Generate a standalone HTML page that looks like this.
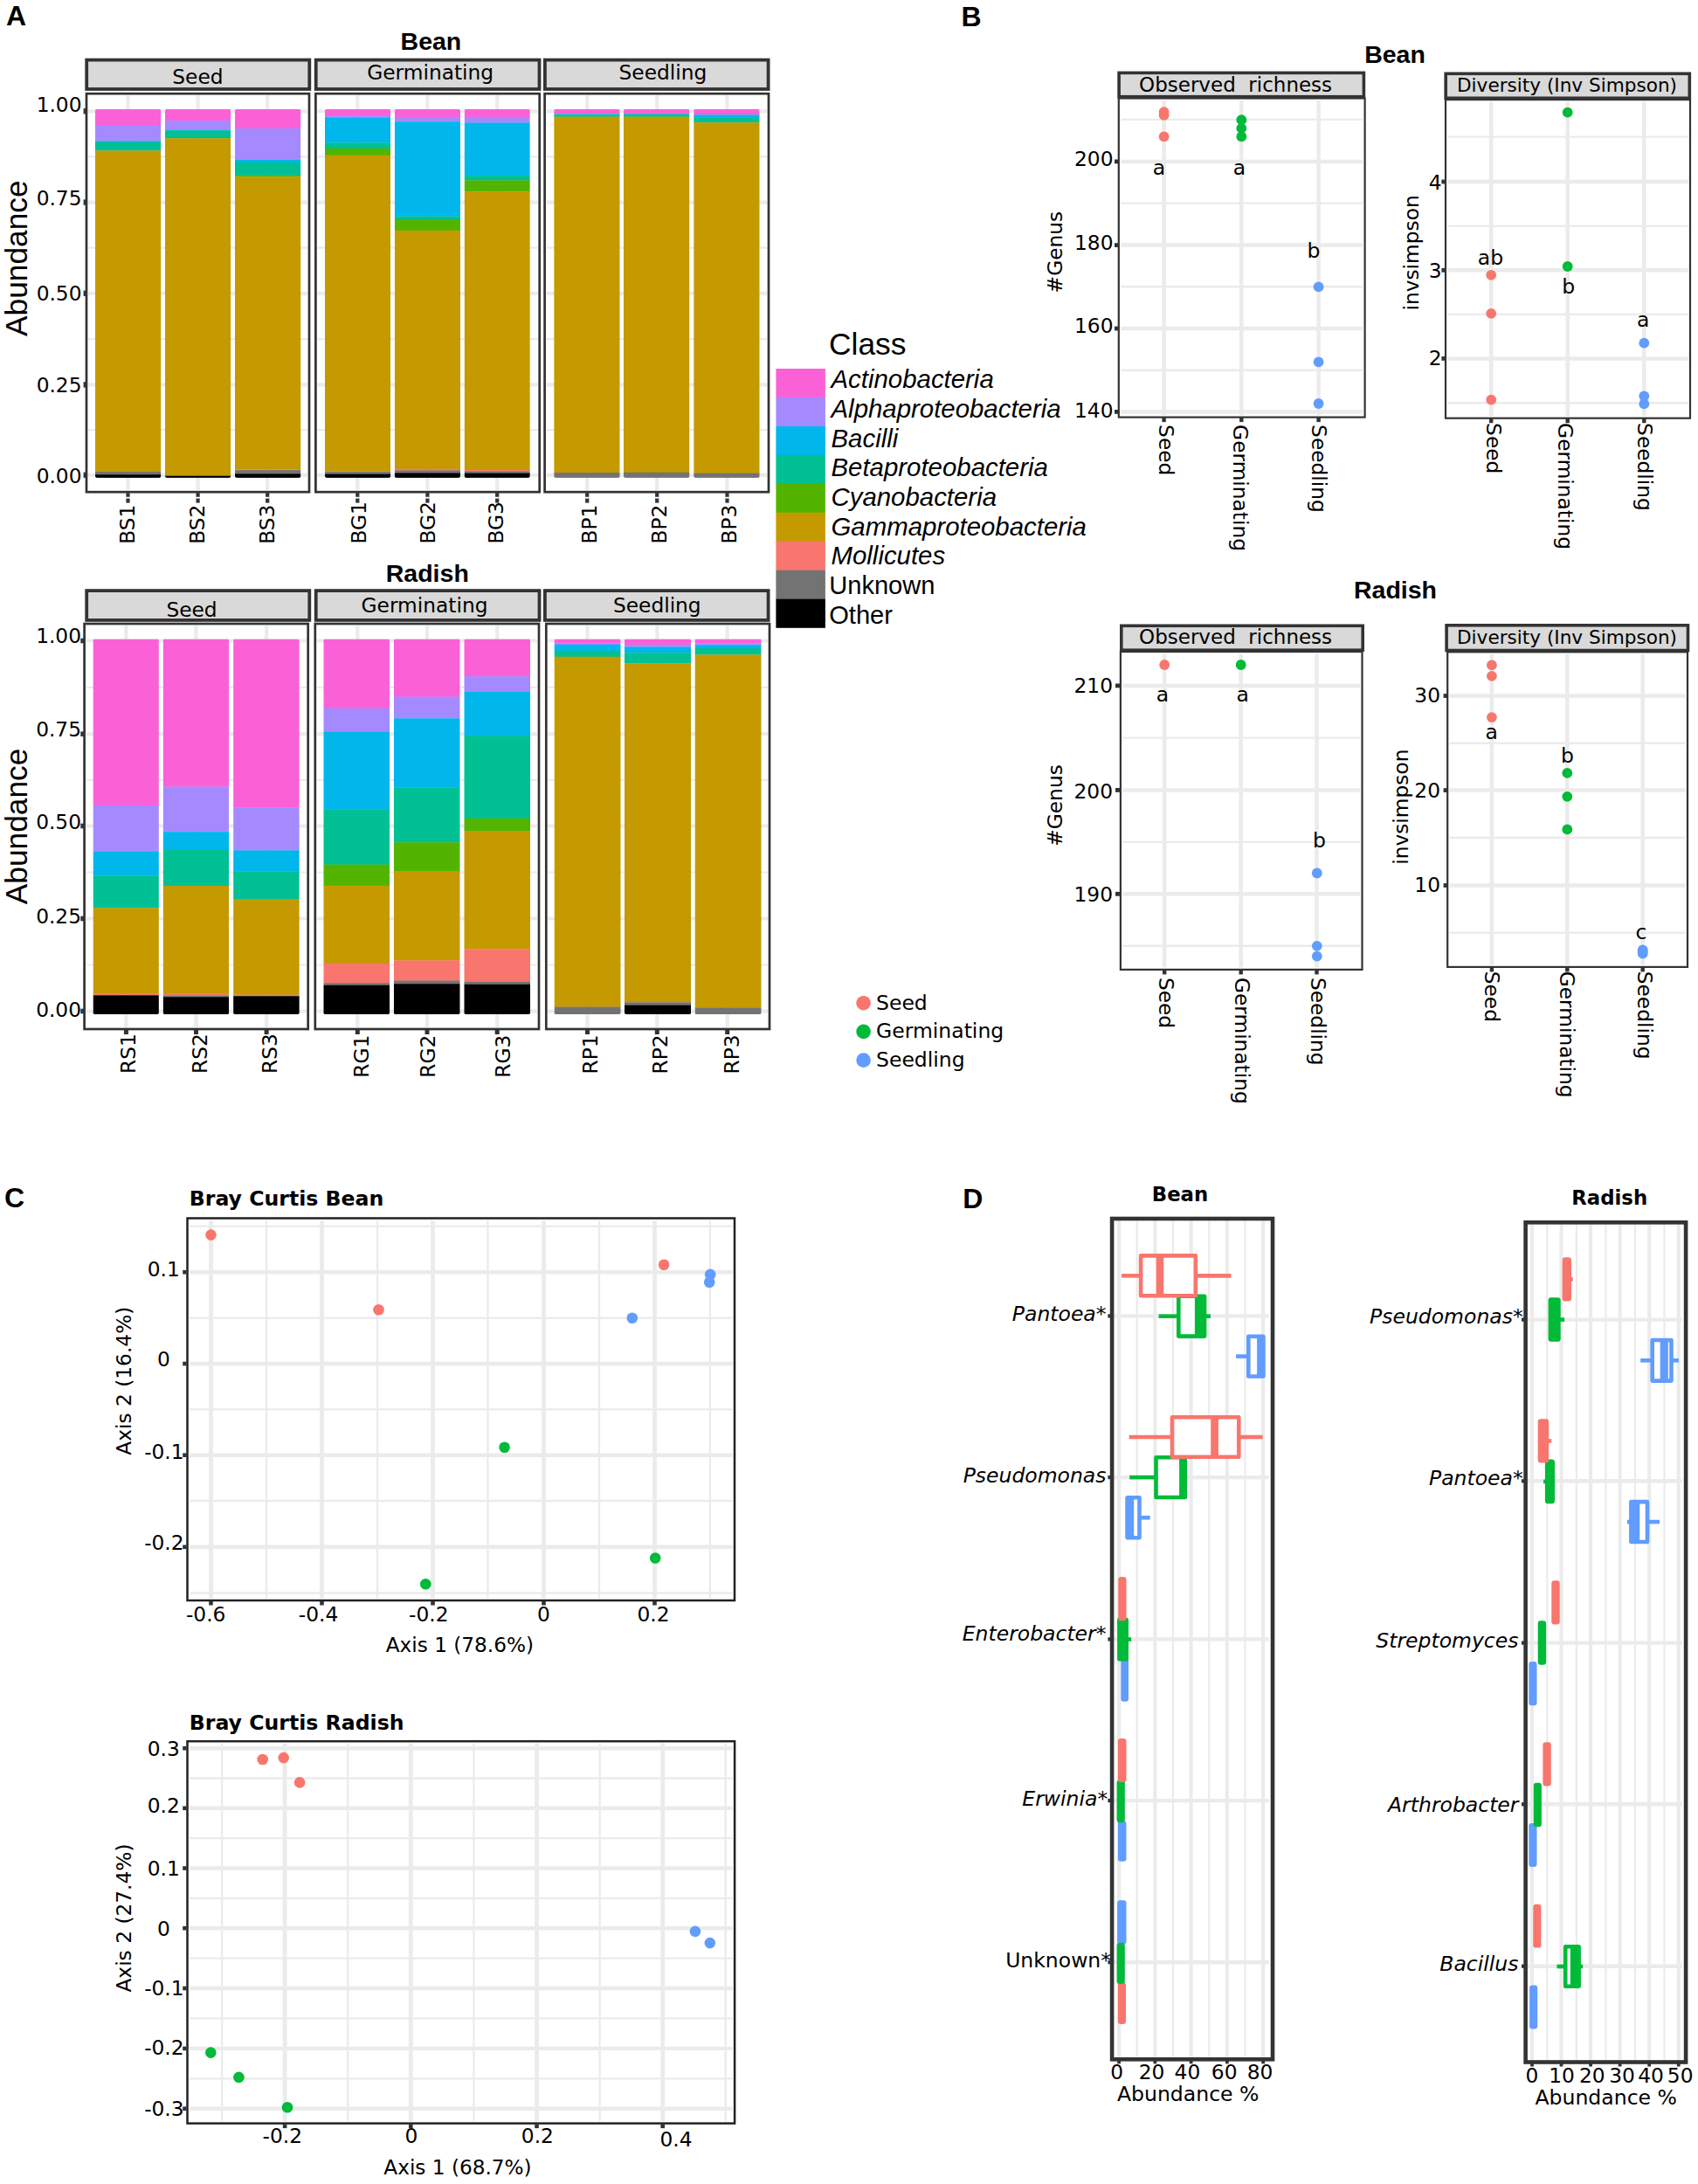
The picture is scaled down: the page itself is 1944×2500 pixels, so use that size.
<!DOCTYPE html>
<html lang="en"><head><meta charset="utf-8"><title>Figure</title>
<style>html,body{margin:0;padding:0;background:#fff}svg{display:block}</style></head><body>
<svg width="1944" height="2500" viewBox="0 0 1944 2500">
<rect x="0" y="0" width="1944" height="2500" fill="#fff"/>
<text x="7" y="28.7" font-family="'Liberation Sans','DejaVu Sans',sans-serif" font-size="32" text-anchor="start" fill="#000" font-weight="bold" xml:space="preserve">A</text>
<text x="1100.4" y="30.3" font-family="'Liberation Sans','DejaVu Sans',sans-serif" font-size="32" text-anchor="start" fill="#000" font-weight="bold" xml:space="preserve">B</text>
<text x="5" y="1381.8" font-family="'Liberation Sans','DejaVu Sans',sans-serif" font-size="32" text-anchor="start" fill="#000" font-weight="bold" xml:space="preserve">C</text>
<text x="1102.2" y="1383.2" font-family="'Liberation Sans','DejaVu Sans',sans-serif" font-size="32" text-anchor="start" fill="#000" font-weight="bold" xml:space="preserve">D</text>
<text x="493.4" y="57" font-family="'Liberation Sans','DejaVu Sans',sans-serif" font-size="28.5" text-anchor="middle" fill="#000" font-weight="bold" xml:space="preserve">Bean</text>
<rect x="99.2" y="68.6" width="255.1" height="33.4" fill="#d9d9d9" stroke="#333333" stroke-width="3.8"/>
<text x="226.4" y="96" font-family="'DejaVu Sans','Liberation Sans',sans-serif" font-size="23.3" text-anchor="middle" fill="#000" xml:space="preserve">Seed</text>
<rect x="361.7" y="68.6" width="255.8" height="33.4" fill="#d9d9d9" stroke="#333333" stroke-width="3.8"/>
<text x="492.7" y="91.3" font-family="'DejaVu Sans','Liberation Sans',sans-serif" font-size="23.3" text-anchor="middle" fill="#000" xml:space="preserve">Germinating</text>
<rect x="623.9" y="68.6" width="255.7" height="33.4" fill="#d9d9d9" stroke="#333333" stroke-width="3.8"/>
<text x="758.9" y="91.3" font-family="'DejaVu Sans','Liberation Sans',sans-serif" font-size="23.3" text-anchor="middle" fill="#000" xml:space="preserve">Seedling</text>
<rect x="99" y="107.2" width="255" height="456" fill="#fff"/>
<line x1="101" y1="179.45" x2="352" y2="179.45" stroke="#ebebeb" stroke-width="2.2"/>
<line x1="101" y1="283.7" x2="352" y2="283.7" stroke="#ebebeb" stroke-width="2.2"/>
<line x1="101" y1="388.1" x2="352" y2="388.1" stroke="#ebebeb" stroke-width="2.2"/>
<line x1="101" y1="492.1" x2="352" y2="492.1" stroke="#ebebeb" stroke-width="2.2"/>
<line x1="101" y1="127.3" x2="352" y2="127.3" stroke="#ebebeb" stroke-width="4.2"/>
<line x1="101" y1="231.6" x2="352" y2="231.6" stroke="#ebebeb" stroke-width="4.2"/>
<line x1="101" y1="335.8" x2="352" y2="335.8" stroke="#ebebeb" stroke-width="4.2"/>
<line x1="101" y1="440.4" x2="352" y2="440.4" stroke="#ebebeb" stroke-width="4.2"/>
<line x1="101" y1="543.8" x2="352" y2="543.8" stroke="#ebebeb" stroke-width="4.2"/>
<line x1="146.5" y1="109.2" x2="146.5" y2="561.2" stroke="#ebebeb" stroke-width="4.2"/>
<line x1="226.6" y1="109.2" x2="226.6" y2="561.2" stroke="#ebebeb" stroke-width="4.2"/>
<line x1="306.2" y1="109.2" x2="306.2" y2="561.2" stroke="#ebebeb" stroke-width="4.2"/>
<rect x="361.4" y="107.2" width="256.3" height="456" fill="#fff"/>
<line x1="363.4" y1="179.45" x2="615.7" y2="179.45" stroke="#ebebeb" stroke-width="2.2"/>
<line x1="363.4" y1="283.7" x2="615.7" y2="283.7" stroke="#ebebeb" stroke-width="2.2"/>
<line x1="363.4" y1="388.1" x2="615.7" y2="388.1" stroke="#ebebeb" stroke-width="2.2"/>
<line x1="363.4" y1="492.1" x2="615.7" y2="492.1" stroke="#ebebeb" stroke-width="2.2"/>
<line x1="363.4" y1="127.3" x2="615.7" y2="127.3" stroke="#ebebeb" stroke-width="4.2"/>
<line x1="363.4" y1="231.6" x2="615.7" y2="231.6" stroke="#ebebeb" stroke-width="4.2"/>
<line x1="363.4" y1="335.8" x2="615.7" y2="335.8" stroke="#ebebeb" stroke-width="4.2"/>
<line x1="363.4" y1="440.4" x2="615.7" y2="440.4" stroke="#ebebeb" stroke-width="4.2"/>
<line x1="363.4" y1="543.8" x2="615.7" y2="543.8" stroke="#ebebeb" stroke-width="4.2"/>
<line x1="409.3" y1="109.2" x2="409.3" y2="561.2" stroke="#ebebeb" stroke-width="4.2"/>
<line x1="489.4" y1="109.2" x2="489.4" y2="561.2" stroke="#ebebeb" stroke-width="4.2"/>
<line x1="569.2" y1="109.2" x2="569.2" y2="561.2" stroke="#ebebeb" stroke-width="4.2"/>
<rect x="623.6" y="107.2" width="256.4" height="456" fill="#fff"/>
<line x1="625.6" y1="179.45" x2="878" y2="179.45" stroke="#ebebeb" stroke-width="2.2"/>
<line x1="625.6" y1="283.7" x2="878" y2="283.7" stroke="#ebebeb" stroke-width="2.2"/>
<line x1="625.6" y1="388.1" x2="878" y2="388.1" stroke="#ebebeb" stroke-width="2.2"/>
<line x1="625.6" y1="492.1" x2="878" y2="492.1" stroke="#ebebeb" stroke-width="2.2"/>
<line x1="625.6" y1="127.3" x2="878" y2="127.3" stroke="#ebebeb" stroke-width="4.2"/>
<line x1="625.6" y1="231.6" x2="878" y2="231.6" stroke="#ebebeb" stroke-width="4.2"/>
<line x1="625.6" y1="335.8" x2="878" y2="335.8" stroke="#ebebeb" stroke-width="4.2"/>
<line x1="625.6" y1="440.4" x2="878" y2="440.4" stroke="#ebebeb" stroke-width="4.2"/>
<line x1="625.6" y1="543.8" x2="878" y2="543.8" stroke="#ebebeb" stroke-width="4.2"/>
<line x1="672.2" y1="109.2" x2="672.2" y2="561.2" stroke="#ebebeb" stroke-width="4.2"/>
<line x1="752.2" y1="109.2" x2="752.2" y2="561.2" stroke="#ebebeb" stroke-width="4.2"/>
<line x1="832.5" y1="109.2" x2="832.5" y2="561.2" stroke="#ebebeb" stroke-width="4.2"/>
<clipPath id="c1"><rect x="109" y="124.9" width="75.4" height="422" rx="1.8"/></clipPath>
<g clip-path="url(#c1)">
<rect x="109" y="124.9" width="75.4" height="19.3" fill="#FB61D7"/>
<rect x="109" y="143.9" width="75.4" height="17.7" fill="#A58AFF"/>
<rect x="109" y="161.3" width="75.4" height="1.7" fill="#00B6EB"/>
<rect x="109" y="162.7" width="75.4" height="10" fill="#00C094"/>
<rect x="109" y="172.4" width="75.4" height="367.9" fill="#C49A00"/>
<rect x="109" y="540" width="75.4" height="3.5" fill="#737373"/>
<rect x="109" y="543.2" width="75.4" height="3.7" fill="#000000"/>
</g>
<clipPath id="c2"><rect x="189" y="124.9" width="75.3" height="422" rx="1.8"/></clipPath>
<g clip-path="url(#c2)">
<rect x="189" y="124.9" width="75.3" height="13.4" fill="#FB61D7"/>
<rect x="189" y="138" width="75.3" height="10.9" fill="#A58AFF"/>
<rect x="189" y="148.6" width="75.3" height="1.2" fill="#00B6EB"/>
<rect x="189" y="149.5" width="75.3" height="9" fill="#00C094"/>
<rect x="189" y="158.2" width="75.3" height="386.8" fill="#C49A00"/>
<rect x="189" y="544.7" width="75.3" height="2.2" fill="#000000"/>
</g>
<clipPath id="c3"><rect x="269" y="124.9" width="75.4" height="422" rx="1.8"/></clipPath>
<g clip-path="url(#c3)">
<rect x="269" y="124.9" width="75.4" height="22.3" fill="#FB61D7"/>
<rect x="269" y="146.9" width="75.4" height="36.4" fill="#A58AFF"/>
<rect x="269" y="183" width="75.4" height="3.1" fill="#00B6EB"/>
<rect x="269" y="185.8" width="75.4" height="15.1" fill="#00C094"/>
<rect x="269" y="200.6" width="75.4" height="2" fill="#53B400"/>
<rect x="269" y="202.3" width="75.4" height="335.2" fill="#C49A00"/>
<rect x="269" y="537.2" width="75.4" height="1.2" fill="#F8766D"/>
<rect x="269" y="538.1" width="75.4" height="4.5" fill="#737373"/>
<rect x="269" y="542.3" width="75.4" height="4.6" fill="#000000"/>
</g>
<clipPath id="c4"><rect x="372" y="124.9" width="75.2" height="422" rx="1.8"/></clipPath>
<g clip-path="url(#c4)">
<rect x="372" y="124.9" width="75.2" height="7.3" fill="#FB61D7"/>
<rect x="372" y="131.9" width="75.2" height="3" fill="#A58AFF"/>
<rect x="372" y="134.6" width="75.2" height="29" fill="#00B6EB"/>
<rect x="372" y="163.3" width="75.2" height="6.9" fill="#00C094"/>
<rect x="372" y="169.9" width="75.2" height="8.2" fill="#53B400"/>
<rect x="372" y="177.8" width="75.2" height="361.6" fill="#C49A00"/>
<rect x="372" y="539.1" width="75.2" height="1.3" fill="#F8766D"/>
<rect x="372" y="540.1" width="75.2" height="2.9" fill="#737373"/>
<rect x="372" y="542.7" width="75.2" height="4.2" fill="#000000"/>
</g>
<clipPath id="c5"><rect x="451.8" y="124.9" width="75.2" height="422" rx="1.8"/></clipPath>
<g clip-path="url(#c5)">
<rect x="451.8" y="124.9" width="75.2" height="9.3" fill="#FB61D7"/>
<rect x="451.8" y="133.9" width="75.2" height="5.6" fill="#A58AFF"/>
<rect x="451.8" y="139.2" width="75.2" height="108.5" fill="#00B6EB"/>
<rect x="451.8" y="247.4" width="75.2" height="4.6" fill="#00C094"/>
<rect x="451.8" y="251.7" width="75.2" height="12.5" fill="#53B400"/>
<rect x="451.8" y="263.9" width="75.2" height="273.1" fill="#C49A00"/>
<rect x="451.8" y="536.7" width="75.2" height="2" fill="#F8766D"/>
<rect x="451.8" y="538.4" width="75.2" height="3.3" fill="#737373"/>
<rect x="451.8" y="541.4" width="75.2" height="5.5" fill="#000000"/>
</g>
<clipPath id="c6"><rect x="531.6" y="124.9" width="75.2" height="422" rx="1.8"/></clipPath>
<g clip-path="url(#c6)">
<rect x="531.6" y="124.9" width="75.2" height="9.3" fill="#FB61D7"/>
<rect x="531.6" y="133.9" width="75.2" height="6.9" fill="#A58AFF"/>
<rect x="531.6" y="140.5" width="75.2" height="60.7" fill="#00B6EB"/>
<rect x="531.6" y="200.9" width="75.2" height="5.9" fill="#00C094"/>
<rect x="531.6" y="206.5" width="75.2" height="13.1" fill="#53B400"/>
<rect x="531.6" y="219.3" width="75.2" height="319.1" fill="#C49A00"/>
<rect x="531.6" y="538.1" width="75.2" height="1.6" fill="#F8766D"/>
<rect x="531.6" y="539.4" width="75.2" height="2.6" fill="#737373"/>
<rect x="531.6" y="541.7" width="75.2" height="5.2" fill="#000000"/>
</g>
<clipPath id="c7"><rect x="634.2" y="124.9" width="75.5" height="422" rx="1.8"/></clipPath>
<g clip-path="url(#c7)">
<rect x="634.2" y="124.9" width="75.5" height="5.7" fill="#FB61D7"/>
<rect x="634.2" y="130.3" width="75.5" height="1.3" fill="#00B6EB"/>
<rect x="634.2" y="131.3" width="75.5" height="2.6" fill="#00C094"/>
<rect x="634.2" y="133.6" width="75.5" height="407.7" fill="#C49A00"/>
<rect x="634.2" y="541" width="75.5" height="5.9" fill="#737373"/>
</g>
<clipPath id="c8"><rect x="714" y="124.9" width="75.5" height="422" rx="1.8"/></clipPath>
<g clip-path="url(#c8)">
<rect x="714" y="124.9" width="75.5" height="5.7" fill="#FB61D7"/>
<rect x="714" y="130.3" width="75.5" height="1" fill="#00B6EB"/>
<rect x="714" y="131" width="75.5" height="2.9" fill="#00C094"/>
<rect x="714" y="133.6" width="75.5" height="407.4" fill="#C49A00"/>
<rect x="714" y="540.7" width="75.5" height="6.2" fill="#737373"/>
</g>
<clipPath id="c9"><rect x="794.2" y="124.9" width="75.5" height="422" rx="1.8"/></clipPath>
<g clip-path="url(#c9)">
<rect x="794.2" y="124.9" width="75.5" height="6.7" fill="#FB61D7"/>
<rect x="794.2" y="131.3" width="75.5" height="3.6" fill="#00B6EB"/>
<rect x="794.2" y="134.6" width="75.5" height="5.9" fill="#00C094"/>
<rect x="794.2" y="140.2" width="75.5" height="401.8" fill="#C49A00"/>
<rect x="794.2" y="541.7" width="75.5" height="5.2" fill="#737373"/>
</g>
<rect x="99" y="107.2" width="255" height="456" fill="none" stroke="#333333" stroke-width="2.7"/>
<rect x="361.4" y="107.2" width="256.3" height="456" fill="none" stroke="#333333" stroke-width="2.7"/>
<rect x="623.6" y="107.2" width="256.4" height="456" fill="none" stroke="#333333" stroke-width="2.7"/>
<rect x="95.6" y="124.1" width="4.4" height="6.4" fill="#333333"/>
<rect x="95.6" y="228.4" width="4.4" height="6.4" fill="#333333"/>
<rect x="95.6" y="332.6" width="4.4" height="6.4" fill="#333333"/>
<rect x="95.6" y="437.2" width="4.4" height="6.4" fill="#333333"/>
<rect x="95.6" y="540.6" width="4.4" height="6.4" fill="#333333"/>
<text x="93.5" y="128" font-family="'DejaVu Sans','Liberation Sans',sans-serif" font-size="23.3" text-anchor="end" fill="#000" xml:space="preserve">1.00</text>
<text x="93.5" y="234.7" font-family="'DejaVu Sans','Liberation Sans',sans-serif" font-size="23.3" text-anchor="end" fill="#000" xml:space="preserve">0.75</text>
<text x="93.5" y="343.5" font-family="'DejaVu Sans','Liberation Sans',sans-serif" font-size="23.3" text-anchor="end" fill="#000" xml:space="preserve">0.50</text>
<text x="93.5" y="449.2" font-family="'DejaVu Sans','Liberation Sans',sans-serif" font-size="23.3" text-anchor="end" fill="#000" xml:space="preserve">0.25</text>
<text x="93.5" y="552.5" font-family="'DejaVu Sans','Liberation Sans',sans-serif" font-size="23.3" text-anchor="end" fill="#000" xml:space="preserve">0.00</text>
<line x1="146.5" y1="564.2" x2="146.5" y2="575.6" stroke="#333333" stroke-width="4.2"/>
<rect x="144.2" y="568.8" width="4.6" height="1.8" fill="#fff"/>
<line x1="226.6" y1="564.2" x2="226.6" y2="575.6" stroke="#333333" stroke-width="4.2"/>
<rect x="224.3" y="568.8" width="4.6" height="1.8" fill="#fff"/>
<line x1="306.2" y1="564.2" x2="306.2" y2="575.6" stroke="#333333" stroke-width="4.2"/>
<rect x="303.9" y="568.8" width="4.6" height="1.8" fill="#fff"/>
<line x1="409.3" y1="564.2" x2="409.3" y2="575.6" stroke="#333333" stroke-width="4.2"/>
<rect x="407" y="568.8" width="4.6" height="1.8" fill="#fff"/>
<line x1="489.4" y1="564.2" x2="489.4" y2="575.6" stroke="#333333" stroke-width="4.2"/>
<rect x="487.1" y="568.8" width="4.6" height="1.8" fill="#fff"/>
<line x1="569.2" y1="564.2" x2="569.2" y2="575.6" stroke="#333333" stroke-width="4.2"/>
<rect x="566.9" y="568.8" width="4.6" height="1.8" fill="#fff"/>
<line x1="672.2" y1="564.2" x2="672.2" y2="575.6" stroke="#333333" stroke-width="4.2"/>
<rect x="669.9" y="568.8" width="4.6" height="1.8" fill="#fff"/>
<line x1="752.2" y1="564.2" x2="752.2" y2="575.6" stroke="#333333" stroke-width="4.2"/>
<rect x="749.9" y="568.8" width="4.6" height="1.8" fill="#fff"/>
<line x1="832.5" y1="564.2" x2="832.5" y2="575.6" stroke="#333333" stroke-width="4.2"/>
<rect x="830.2" y="568.8" width="4.6" height="1.8" fill="#fff"/>
<text font-family="'DejaVu Sans','Liberation Sans',sans-serif" font-size="23.3" text-anchor="start" fill="#000" transform="translate(154.4 622.8) rotate(-90)" xml:space="preserve">BS1</text>
<text font-family="'DejaVu Sans','Liberation Sans',sans-serif" font-size="23.3" text-anchor="start" fill="#000" transform="translate(233.8 622.8) rotate(-90)" xml:space="preserve">BS2</text>
<text font-family="'DejaVu Sans','Liberation Sans',sans-serif" font-size="23.3" text-anchor="start" fill="#000" transform="translate(313.9 622.8) rotate(-90)" xml:space="preserve">BS3</text>
<text font-family="'DejaVu Sans','Liberation Sans',sans-serif" font-size="23.3" text-anchor="start" fill="#000" transform="translate(418.6 622.6) rotate(-90)" xml:space="preserve">BG1</text>
<text font-family="'DejaVu Sans','Liberation Sans',sans-serif" font-size="23.3" text-anchor="start" fill="#000" transform="translate(498.4 622.6) rotate(-90)" xml:space="preserve">BG2</text>
<text font-family="'DejaVu Sans','Liberation Sans',sans-serif" font-size="23.3" text-anchor="start" fill="#000" transform="translate(575.9 622.6) rotate(-90)" xml:space="preserve">BG3</text>
<text font-family="'DejaVu Sans','Liberation Sans',sans-serif" font-size="23.3" text-anchor="start" fill="#000" transform="translate(683.1 622.6) rotate(-90)" xml:space="preserve">BP1</text>
<text font-family="'DejaVu Sans','Liberation Sans',sans-serif" font-size="23.3" text-anchor="start" fill="#000" transform="translate(763.2 622.6) rotate(-90)" xml:space="preserve">BP2</text>
<text font-family="'DejaVu Sans','Liberation Sans',sans-serif" font-size="23.3" text-anchor="start" fill="#000" transform="translate(843 622.6) rotate(-90)" xml:space="preserve">BP3</text>
<text font-family="'Liberation Sans','DejaVu Sans',sans-serif" font-size="35.3" text-anchor="middle" fill="#000" transform="translate(31 295.7) rotate(-90)" xml:space="preserve">Abundance</text>
<text x="489.3" y="666.3" font-family="'Liberation Sans','DejaVu Sans',sans-serif" font-size="28.5" text-anchor="middle" fill="#000" font-weight="bold" xml:space="preserve">Radish</text>
<rect x="99.2" y="676.1" width="255.1" height="33.8" fill="#d9d9d9" stroke="#333333" stroke-width="3.8"/>
<text x="219.5" y="705.5" font-family="'DejaVu Sans','Liberation Sans',sans-serif" font-size="23.3" text-anchor="middle" fill="#000" xml:space="preserve">Seed</text>
<rect x="361.7" y="676.1" width="255.8" height="33.8" fill="#d9d9d9" stroke="#333333" stroke-width="3.8"/>
<text x="486" y="701.2" font-family="'DejaVu Sans','Liberation Sans',sans-serif" font-size="23.3" text-anchor="middle" fill="#000" xml:space="preserve">Germinating</text>
<rect x="623.9" y="676.1" width="255.7" height="33.8" fill="#d9d9d9" stroke="#333333" stroke-width="3.8"/>
<text x="752.3" y="701.2" font-family="'DejaVu Sans','Liberation Sans',sans-serif" font-size="23.3" text-anchor="middle" fill="#000" xml:space="preserve">Seedling</text>
<rect x="96.6" y="714" width="256.1" height="464" fill="#fff"/>
<line x1="98.6" y1="786.85" x2="350.7" y2="786.85" stroke="#ebebeb" stroke-width="2.2"/>
<line x1="98.6" y1="892.85" x2="350.7" y2="892.85" stroke="#ebebeb" stroke-width="2.2"/>
<line x1="98.6" y1="998.5" x2="350.7" y2="998.5" stroke="#ebebeb" stroke-width="2.2"/>
<line x1="98.6" y1="1104.5" x2="350.7" y2="1104.5" stroke="#ebebeb" stroke-width="2.2"/>
<line x1="98.6" y1="733.5" x2="350.7" y2="733.5" stroke="#ebebeb" stroke-width="4.2"/>
<line x1="98.6" y1="840.2" x2="350.7" y2="840.2" stroke="#ebebeb" stroke-width="4.2"/>
<line x1="98.6" y1="945.5" x2="350.7" y2="945.5" stroke="#ebebeb" stroke-width="4.2"/>
<line x1="98.6" y1="1051.5" x2="350.7" y2="1051.5" stroke="#ebebeb" stroke-width="4.2"/>
<line x1="98.6" y1="1157.5" x2="350.7" y2="1157.5" stroke="#ebebeb" stroke-width="4.2"/>
<line x1="144.4" y1="716" x2="144.4" y2="1176" stroke="#ebebeb" stroke-width="4.2"/>
<line x1="224.5" y1="716" x2="224.5" y2="1176" stroke="#ebebeb" stroke-width="4.2"/>
<line x1="305.1" y1="716" x2="305.1" y2="1176" stroke="#ebebeb" stroke-width="4.2"/>
<rect x="360.8" y="714" width="256.2" height="464" fill="#fff"/>
<line x1="362.8" y1="786.85" x2="615" y2="786.85" stroke="#ebebeb" stroke-width="2.2"/>
<line x1="362.8" y1="892.85" x2="615" y2="892.85" stroke="#ebebeb" stroke-width="2.2"/>
<line x1="362.8" y1="998.5" x2="615" y2="998.5" stroke="#ebebeb" stroke-width="2.2"/>
<line x1="362.8" y1="1104.5" x2="615" y2="1104.5" stroke="#ebebeb" stroke-width="2.2"/>
<line x1="362.8" y1="733.5" x2="615" y2="733.5" stroke="#ebebeb" stroke-width="4.2"/>
<line x1="362.8" y1="840.2" x2="615" y2="840.2" stroke="#ebebeb" stroke-width="4.2"/>
<line x1="362.8" y1="945.5" x2="615" y2="945.5" stroke="#ebebeb" stroke-width="4.2"/>
<line x1="362.8" y1="1051.5" x2="615" y2="1051.5" stroke="#ebebeb" stroke-width="4.2"/>
<line x1="362.8" y1="1157.5" x2="615" y2="1157.5" stroke="#ebebeb" stroke-width="4.2"/>
<line x1="409.3" y1="716" x2="409.3" y2="1176" stroke="#ebebeb" stroke-width="4.2"/>
<line x1="489" y1="716" x2="489" y2="1176" stroke="#ebebeb" stroke-width="4.2"/>
<line x1="569.2" y1="716" x2="569.2" y2="1176" stroke="#ebebeb" stroke-width="4.2"/>
<rect x="625.3" y="714" width="255.7" height="464" fill="#fff"/>
<line x1="627.3" y1="786.85" x2="879" y2="786.85" stroke="#ebebeb" stroke-width="2.2"/>
<line x1="627.3" y1="892.85" x2="879" y2="892.85" stroke="#ebebeb" stroke-width="2.2"/>
<line x1="627.3" y1="998.5" x2="879" y2="998.5" stroke="#ebebeb" stroke-width="2.2"/>
<line x1="627.3" y1="1104.5" x2="879" y2="1104.5" stroke="#ebebeb" stroke-width="2.2"/>
<line x1="627.3" y1="733.5" x2="879" y2="733.5" stroke="#ebebeb" stroke-width="4.2"/>
<line x1="627.3" y1="840.2" x2="879" y2="840.2" stroke="#ebebeb" stroke-width="4.2"/>
<line x1="627.3" y1="945.5" x2="879" y2="945.5" stroke="#ebebeb" stroke-width="4.2"/>
<line x1="627.3" y1="1051.5" x2="879" y2="1051.5" stroke="#ebebeb" stroke-width="4.2"/>
<line x1="627.3" y1="1157.5" x2="879" y2="1157.5" stroke="#ebebeb" stroke-width="4.2"/>
<line x1="672.5" y1="716" x2="672.5" y2="1176" stroke="#ebebeb" stroke-width="4.2"/>
<line x1="752.3" y1="716" x2="752.3" y2="1176" stroke="#ebebeb" stroke-width="4.2"/>
<line x1="832.7" y1="716" x2="832.7" y2="1176" stroke="#ebebeb" stroke-width="4.2"/>
<clipPath id="c10"><rect x="106.5" y="731.4" width="75.4" height="429.6" rx="1.8"/></clipPath>
<g clip-path="url(#c10)">
<rect x="106.5" y="731.4" width="75.4" height="190.9" fill="#FB61D7"/>
<rect x="106.5" y="922" width="75.4" height="52.9" fill="#A58AFF"/>
<rect x="106.5" y="974.6" width="75.4" height="28.1" fill="#00B6EB"/>
<rect x="106.5" y="1002.4" width="75.4" height="37.3" fill="#00C094"/>
<rect x="106.5" y="1039.4" width="75.4" height="98.5" fill="#C49A00"/>
<rect x="106.5" y="1137.6" width="75.4" height="2" fill="#F8766D"/>
<rect x="106.5" y="1139.3" width="75.4" height="21.7" fill="#000000"/>
</g>
<clipPath id="c11"><rect x="186.6" y="731.4" width="75.6" height="429.6" rx="1.8"/></clipPath>
<g clip-path="url(#c11)">
<rect x="186.6" y="731.4" width="75.6" height="169.4" fill="#FB61D7"/>
<rect x="186.6" y="900.5" width="75.6" height="52" fill="#A58AFF"/>
<rect x="186.6" y="952.2" width="75.6" height="20.8" fill="#00B6EB"/>
<rect x="186.6" y="972.7" width="75.6" height="41.6" fill="#00C094"/>
<rect x="186.6" y="1014" width="75.6" height="123.9" fill="#C49A00"/>
<rect x="186.6" y="1137.6" width="75.6" height="2.2" fill="#F8766D"/>
<rect x="186.6" y="1139.5" width="75.6" height="2" fill="#737373"/>
<rect x="186.6" y="1141.2" width="75.6" height="19.8" fill="#000000"/>
</g>
<clipPath id="c12"><rect x="267.1" y="731.4" width="75.7" height="429.6" rx="1.8"/></clipPath>
<g clip-path="url(#c12)">
<rect x="267.1" y="731.4" width="75.7" height="193.1" fill="#FB61D7"/>
<rect x="267.1" y="924.2" width="75.7" height="49.5" fill="#A58AFF"/>
<rect x="267.1" y="973.4" width="75.7" height="24.4" fill="#00B6EB"/>
<rect x="267.1" y="997.5" width="75.7" height="31.8" fill="#00C094"/>
<rect x="267.1" y="1029" width="75.7" height="109.9" fill="#C49A00"/>
<rect x="267.1" y="1138.6" width="75.7" height="1.9" fill="#F8766D"/>
<rect x="267.1" y="1140.2" width="75.7" height="20.8" fill="#000000"/>
</g>
<clipPath id="c13"><rect x="370.3" y="731.4" width="75.9" height="429.6" rx="1.8"/></clipPath>
<g clip-path="url(#c13)">
<rect x="370.3" y="731.4" width="75.9" height="79.6" fill="#FB61D7"/>
<rect x="370.3" y="810.7" width="75.9" height="27.4" fill="#A58AFF"/>
<rect x="370.3" y="837.8" width="75.9" height="88.7" fill="#00B6EB"/>
<rect x="370.3" y="926.2" width="75.9" height="63.7" fill="#00C094"/>
<rect x="370.3" y="989.6" width="75.9" height="24.4" fill="#53B400"/>
<rect x="370.3" y="1013.7" width="75.9" height="89.3" fill="#C49A00"/>
<rect x="370.3" y="1102.7" width="75.9" height="22.8" fill="#F8766D"/>
<rect x="370.3" y="1125.2" width="75.9" height="2.9" fill="#737373"/>
<rect x="370.3" y="1127.8" width="75.9" height="33.2" fill="#000000"/>
</g>
<clipPath id="c14"><rect x="450.8" y="731.4" width="75.9" height="429.6" rx="1.8"/></clipPath>
<g clip-path="url(#c14)">
<rect x="450.8" y="731.4" width="75.9" height="66.5" fill="#FB61D7"/>
<rect x="450.8" y="797.6" width="75.9" height="25" fill="#A58AFF"/>
<rect x="450.8" y="822.3" width="75.9" height="79.5" fill="#00B6EB"/>
<rect x="450.8" y="901.5" width="75.9" height="63" fill="#00C094"/>
<rect x="450.8" y="964.2" width="75.9" height="33.6" fill="#53B400"/>
<rect x="450.8" y="997.5" width="75.9" height="102.2" fill="#C49A00"/>
<rect x="450.8" y="1099.4" width="75.9" height="23.4" fill="#F8766D"/>
<rect x="450.8" y="1122.5" width="75.9" height="4" fill="#737373"/>
<rect x="450.8" y="1126.2" width="75.9" height="34.8" fill="#000000"/>
</g>
<clipPath id="c15"><rect x="531.3" y="731.4" width="75.8" height="429.6" rx="1.8"/></clipPath>
<g clip-path="url(#c15)">
<rect x="531.3" y="731.4" width="75.8" height="43" fill="#FB61D7"/>
<rect x="531.3" y="774.1" width="75.8" height="18.2" fill="#A58AFF"/>
<rect x="531.3" y="792" width="75.8" height="50.4" fill="#00B6EB"/>
<rect x="531.3" y="842.1" width="75.8" height="95" fill="#00C094"/>
<rect x="531.3" y="936.8" width="75.8" height="15" fill="#53B400"/>
<rect x="531.3" y="951.5" width="75.8" height="135.1" fill="#C49A00"/>
<rect x="531.3" y="1086.3" width="75.8" height="37.9" fill="#F8766D"/>
<rect x="531.3" y="1123.9" width="75.8" height="3.2" fill="#737373"/>
<rect x="531.3" y="1126.8" width="75.8" height="34.2" fill="#000000"/>
</g>
<clipPath id="c16"><rect x="634.5" y="731.4" width="76.2" height="429.6" rx="1.8"/></clipPath>
<g clip-path="url(#c16)">
<rect x="634.5" y="731.4" width="76.2" height="5.4" fill="#FB61D7"/>
<rect x="634.5" y="736.5" width="76.2" height="1.5" fill="#A58AFF"/>
<rect x="634.5" y="737.7" width="76.2" height="7.4" fill="#00B6EB"/>
<rect x="634.5" y="744.8" width="76.2" height="7.2" fill="#00C094"/>
<rect x="634.5" y="751.7" width="76.2" height="401.1" fill="#C49A00"/>
<rect x="634.5" y="1152.5" width="76.2" height="8.5" fill="#737373"/>
</g>
<clipPath id="c17"><rect x="715" y="731.4" width="76.2" height="429.6" rx="1.8"/></clipPath>
<g clip-path="url(#c17)">
<rect x="715" y="731.4" width="76.2" height="6.8" fill="#FB61D7"/>
<rect x="715" y="737.9" width="76.2" height="2.9" fill="#A58AFF"/>
<rect x="715" y="740.5" width="76.2" height="7.2" fill="#00B6EB"/>
<rect x="715" y="747.4" width="76.2" height="12.2" fill="#00C094"/>
<rect x="715" y="759.3" width="76.2" height="388.3" fill="#C49A00"/>
<rect x="715" y="1147.3" width="76.2" height="3.6" fill="#737373"/>
<rect x="715" y="1150.6" width="76.2" height="10.4" fill="#000000"/>
</g>
<clipPath id="c18"><rect x="795.5" y="731.4" width="76.2" height="429.6" rx="1.8"/></clipPath>
<g clip-path="url(#c18)">
<rect x="795.5" y="731.4" width="76.2" height="5.4" fill="#FB61D7"/>
<rect x="795.5" y="736.5" width="76.2" height="2" fill="#A58AFF"/>
<rect x="795.5" y="738.2" width="76.2" height="3.9" fill="#00B6EB"/>
<rect x="795.5" y="741.8" width="76.2" height="7.9" fill="#00C094"/>
<rect x="795.5" y="749.4" width="76.2" height="404.4" fill="#C49A00"/>
<rect x="795.5" y="1153.5" width="76.2" height="7.5" fill="#737373"/>
</g>
<rect x="96.6" y="714" width="256.1" height="464" fill="none" stroke="#333333" stroke-width="2.7"/>
<rect x="360.8" y="714" width="256.2" height="464" fill="none" stroke="#333333" stroke-width="2.7"/>
<rect x="625.3" y="714" width="255.7" height="464" fill="none" stroke="#333333" stroke-width="2.7"/>
<rect x="92.3" y="730.7" width="4.7" height="5.6" fill="#333333"/>
<rect x="92.3" y="837.4" width="4.7" height="5.6" fill="#333333"/>
<rect x="92.3" y="942.7" width="4.7" height="5.6" fill="#333333"/>
<rect x="92.3" y="1048.7" width="4.7" height="5.6" fill="#333333"/>
<rect x="92.3" y="1154.7" width="4.7" height="5.6" fill="#333333"/>
<text x="93" y="735.6" font-family="'DejaVu Sans','Liberation Sans',sans-serif" font-size="23.3" text-anchor="end" fill="#000" xml:space="preserve">1.00</text>
<text x="93" y="842.8" font-family="'DejaVu Sans','Liberation Sans',sans-serif" font-size="23.3" text-anchor="end" fill="#000" xml:space="preserve">0.75</text>
<text x="93" y="948.5" font-family="'DejaVu Sans','Liberation Sans',sans-serif" font-size="23.3" text-anchor="end" fill="#000" xml:space="preserve">0.50</text>
<text x="93" y="1056.9" font-family="'DejaVu Sans','Liberation Sans',sans-serif" font-size="23.3" text-anchor="end" fill="#000" xml:space="preserve">0.25</text>
<text x="93" y="1164.3" font-family="'DejaVu Sans','Liberation Sans',sans-serif" font-size="23.3" text-anchor="end" fill="#000" xml:space="preserve">0.00</text>
<line x1="144.4" y1="1179" x2="144.4" y2="1184" stroke="#333333" stroke-width="5"/>
<line x1="224.5" y1="1179" x2="224.5" y2="1184" stroke="#333333" stroke-width="5"/>
<line x1="305.1" y1="1179" x2="305.1" y2="1184" stroke="#333333" stroke-width="5"/>
<line x1="409.3" y1="1179" x2="409.3" y2="1184" stroke="#333333" stroke-width="5"/>
<line x1="489" y1="1179" x2="489" y2="1184" stroke="#333333" stroke-width="5"/>
<line x1="569.2" y1="1179" x2="569.2" y2="1184" stroke="#333333" stroke-width="5"/>
<line x1="672.5" y1="1179" x2="672.5" y2="1184" stroke="#333333" stroke-width="5"/>
<line x1="752.3" y1="1179" x2="752.3" y2="1184" stroke="#333333" stroke-width="5"/>
<line x1="832.7" y1="1179" x2="832.7" y2="1184" stroke="#333333" stroke-width="5"/>
<text font-family="'DejaVu Sans','Liberation Sans',sans-serif" font-size="23.3" text-anchor="start" fill="#000" transform="translate(155.4 1229) rotate(-90)" xml:space="preserve">RS1</text>
<text font-family="'DejaVu Sans','Liberation Sans',sans-serif" font-size="23.3" text-anchor="start" fill="#000" transform="translate(236.9 1229) rotate(-90)" xml:space="preserve">RS2</text>
<text font-family="'DejaVu Sans','Liberation Sans',sans-serif" font-size="23.3" text-anchor="start" fill="#000" transform="translate(317 1229) rotate(-90)" xml:space="preserve">RS3</text>
<text font-family="'DejaVu Sans','Liberation Sans',sans-serif" font-size="23.3" text-anchor="start" fill="#000" transform="translate(421.9 1233.8) rotate(-90)" xml:space="preserve">RG1</text>
<text font-family="'DejaVu Sans','Liberation Sans',sans-serif" font-size="23.3" text-anchor="start" fill="#000" transform="translate(498.4 1233.8) rotate(-90)" xml:space="preserve">RG2</text>
<text font-family="'DejaVu Sans','Liberation Sans',sans-serif" font-size="23.3" text-anchor="start" fill="#000" transform="translate(583.5 1233.8) rotate(-90)" xml:space="preserve">RG3</text>
<text font-family="'DejaVu Sans','Liberation Sans',sans-serif" font-size="23.3" text-anchor="start" fill="#000" transform="translate(684.1 1229.4) rotate(-90)" xml:space="preserve">RP1</text>
<text font-family="'DejaVu Sans','Liberation Sans',sans-serif" font-size="23.3" text-anchor="start" fill="#000" transform="translate(763.9 1229.4) rotate(-90)" xml:space="preserve">RP2</text>
<text font-family="'DejaVu Sans','Liberation Sans',sans-serif" font-size="23.3" text-anchor="start" fill="#000" transform="translate(845.7 1229.4) rotate(-90)" xml:space="preserve">RP3</text>
<text font-family="'Liberation Sans','DejaVu Sans',sans-serif" font-size="35.3" text-anchor="middle" fill="#000" transform="translate(31 946) rotate(-90)" xml:space="preserve">Abundance</text>
<text x="949" y="405.5" font-family="'Liberation Sans','DejaVu Sans',sans-serif" font-size="35.4" text-anchor="start" fill="#000" xml:space="preserve">Class</text>
<rect x="888.4" y="422" width="56.5" height="33.2" fill="#FB61D7"/>
<text x="951.5" y="444.2" font-family="'Liberation Sans','DejaVu Sans',sans-serif" font-size="29.4" text-anchor="start" fill="#000" font-style="italic" xml:space="preserve">Actinobacteria</text>
<rect x="888.4" y="454.95" width="56.5" height="33.2" fill="#A58AFF"/>
<text x="951.5" y="477.9" font-family="'Liberation Sans','DejaVu Sans',sans-serif" font-size="29.4" text-anchor="start" fill="#000" font-style="italic" xml:space="preserve">Alphaproteobacteria</text>
<rect x="888.4" y="487.9" width="56.5" height="33.2" fill="#00B6EB"/>
<text x="951.5" y="511.6" font-family="'Liberation Sans','DejaVu Sans',sans-serif" font-size="29.4" text-anchor="start" fill="#000" font-style="italic" xml:space="preserve">Bacilli</text>
<rect x="888.4" y="520.85" width="56.5" height="33.2" fill="#00C094"/>
<text x="951.5" y="545.3" font-family="'Liberation Sans','DejaVu Sans',sans-serif" font-size="29.4" text-anchor="start" fill="#000" font-style="italic" xml:space="preserve">Betaproteobacteria</text>
<rect x="888.4" y="553.8" width="56.5" height="33.2" fill="#53B400"/>
<text x="951.5" y="579" font-family="'Liberation Sans','DejaVu Sans',sans-serif" font-size="29.4" text-anchor="start" fill="#000" font-style="italic" xml:space="preserve">Cyanobacteria</text>
<rect x="888.4" y="586.75" width="56.5" height="33.2" fill="#C49A00"/>
<text x="951.5" y="612.7" font-family="'Liberation Sans','DejaVu Sans',sans-serif" font-size="29.4" text-anchor="start" fill="#000" font-style="italic" xml:space="preserve">Gammaproteobacteria</text>
<rect x="888.4" y="619.7" width="56.5" height="33.2" fill="#F8766D"/>
<text x="951.5" y="646.4" font-family="'Liberation Sans','DejaVu Sans',sans-serif" font-size="29.4" text-anchor="start" fill="#000" font-style="italic" xml:space="preserve">Mollicutes</text>
<rect x="888.4" y="652.65" width="56.5" height="33.2" fill="#737373"/>
<text x="949.2" y="680.1" font-family="'Liberation Sans','DejaVu Sans',sans-serif" font-size="29.1" text-anchor="start" fill="#000" xml:space="preserve">Unknown</text>
<rect x="888.4" y="685.6" width="56.5" height="33.2" fill="#000000"/>
<text x="949.2" y="713.8" font-family="'Liberation Sans','DejaVu Sans',sans-serif" font-size="29.1" text-anchor="start" fill="#000" xml:space="preserve">Other</text>
<circle cx="988.6" cy="1148.2" r="8.3" fill="#F8766D"/>
<text x="1003" y="1155.7" font-family="'DejaVu Sans','Liberation Sans',sans-serif" font-size="23.5" text-anchor="start" fill="#000" xml:space="preserve">Seed</text>
<circle cx="988.6" cy="1180.9" r="8.3" fill="#00BA38"/>
<text x="1003" y="1188.35" font-family="'DejaVu Sans','Liberation Sans',sans-serif" font-size="23.5" text-anchor="start" fill="#000" xml:space="preserve">Germinating</text>
<circle cx="988.6" cy="1213.6" r="8.3" fill="#619CFF"/>
<text x="1003" y="1221" font-family="'DejaVu Sans','Liberation Sans',sans-serif" font-size="23.5" text-anchor="start" fill="#000" xml:space="preserve">Seedling</text>
<text x="1597" y="71.7" font-family="'Liberation Sans','DejaVu Sans',sans-serif" font-size="28.5" text-anchor="middle" fill="#000" font-weight="bold" xml:space="preserve">Bean</text>
<text x="1597.5" y="685.4" font-family="'Liberation Sans','DejaVu Sans',sans-serif" font-size="28.5" text-anchor="middle" fill="#000" font-weight="bold" xml:space="preserve">Radish</text>
<rect x="1280.8" y="112.5" width="281.8" height="365.1" fill="#fff"/>
<line x1="1283.2" y1="136.9" x2="1560.2" y2="136.9" stroke="#ebebeb" stroke-width="2.4"/>
<line x1="1283.2" y1="232.6" x2="1560.2" y2="232.6" stroke="#ebebeb" stroke-width="2.4"/>
<line x1="1283.2" y1="328.3" x2="1560.2" y2="328.3" stroke="#ebebeb" stroke-width="2.4"/>
<line x1="1283.2" y1="423.7" x2="1560.2" y2="423.7" stroke="#ebebeb" stroke-width="2.4"/>
<line x1="1283.2" y1="184.9" x2="1560.2" y2="184.9" stroke="#ebebeb" stroke-width="4.5"/>
<line x1="1283.2" y1="280.6" x2="1560.2" y2="280.6" stroke="#ebebeb" stroke-width="4.5"/>
<line x1="1283.2" y1="376" x2="1560.2" y2="376" stroke="#ebebeb" stroke-width="4.5"/>
<line x1="1283.2" y1="471.4" x2="1560.2" y2="471.4" stroke="#ebebeb" stroke-width="4.5"/>
<line x1="1332.6" y1="114.9" x2="1332.6" y2="475.2" stroke="#ebebeb" stroke-width="4.5"/>
<line x1="1421.3" y1="114.9" x2="1421.3" y2="475.2" stroke="#ebebeb" stroke-width="4.5"/>
<line x1="1509.6" y1="114.9" x2="1509.6" y2="475.2" stroke="#ebebeb" stroke-width="4.5"/>
<circle cx="1332.6" cy="128.1" r="5.9" fill="#F8766D"/>
<circle cx="1332.6" cy="131.9" r="5.9" fill="#F8766D"/>
<circle cx="1332.6" cy="156.4" r="5.9" fill="#F8766D"/>
<circle cx="1421.3" cy="137.2" r="5.9" fill="#00BA38"/>
<circle cx="1421.3" cy="146.9" r="5.9" fill="#00BA38"/>
<circle cx="1421.3" cy="156.4" r="5.9" fill="#00BA38"/>
<circle cx="1509.6" cy="328.3" r="5.9" fill="#619CFF"/>
<circle cx="1509.6" cy="414.3" r="5.9" fill="#619CFF"/>
<circle cx="1509.6" cy="462" r="5.9" fill="#619CFF"/>
<text x="1327" y="200.2" font-family="'DejaVu Sans','Liberation Sans',sans-serif" font-size="23.5" text-anchor="middle" fill="#000" xml:space="preserve">a</text>
<text x="1418.9" y="200.2" font-family="'DejaVu Sans','Liberation Sans',sans-serif" font-size="23.5" text-anchor="middle" fill="#000" xml:space="preserve">a</text>
<text x="1504" y="295.3" font-family="'DejaVu Sans','Liberation Sans',sans-serif" font-size="23.5" text-anchor="middle" fill="#000" xml:space="preserve">b</text>
<rect x="1280.8" y="112.5" width="281.8" height="365.1" fill="none" stroke="#333333" stroke-width="2.2"/>
<rect x="1281.1" y="83.4" width="280.3" height="27.3" fill="#d9d9d9" stroke="#333333" stroke-width="3.6"/>
<text x="1414.6" y="105.4" font-family="'DejaVu Sans','Liberation Sans',sans-serif" font-size="23.3" text-anchor="middle" fill="#000" textLength="221" lengthAdjust="spacingAndGlyphs" xml:space="preserve">Observed  richness</text>
<rect x="1276" y="182.5" width="4.8" height="4.8" fill="#333333"/>
<rect x="1276" y="278.2" width="4.8" height="4.8" fill="#333333"/>
<rect x="1276" y="373.6" width="4.8" height="4.8" fill="#333333"/>
<rect x="1276" y="469" width="4.8" height="4.8" fill="#333333"/>
<rect x="1330.4" y="477.6" width="4.4" height="5.5" fill="#333333"/>
<rect x="1419.1" y="477.6" width="4.4" height="5.5" fill="#333333"/>
<rect x="1507.4" y="477.6" width="4.4" height="5.5" fill="#333333"/>
<text x="1274.5" y="190.2" font-family="'DejaVu Sans','Liberation Sans',sans-serif" font-size="23.3" text-anchor="end" fill="#000" xml:space="preserve">200</text>
<text x="1274.5" y="286" font-family="'DejaVu Sans','Liberation Sans',sans-serif" font-size="23.3" text-anchor="end" fill="#000" xml:space="preserve">180</text>
<text x="1274.5" y="380.5" font-family="'DejaVu Sans','Liberation Sans',sans-serif" font-size="23.3" text-anchor="end" fill="#000" xml:space="preserve">160</text>
<text x="1274.5" y="478.4" font-family="'DejaVu Sans','Liberation Sans',sans-serif" font-size="23.3" text-anchor="end" fill="#000" xml:space="preserve">140</text>
<text font-family="'DejaVu Sans','Liberation Sans',sans-serif" font-size="23.3" text-anchor="middle" fill="#000" transform="translate(1216 288.6) rotate(-90)" xml:space="preserve">#Genus</text>
<text font-family="'DejaVu Sans','Liberation Sans',sans-serif" font-size="23.3" text-anchor="start" fill="#000" transform="translate(1327.3 486.1) rotate(90)" xml:space="preserve">Seed</text>
<text font-family="'DejaVu Sans','Liberation Sans',sans-serif" font-size="23.3" text-anchor="start" fill="#000" transform="translate(1411.6 486.1) rotate(90)" xml:space="preserve">Germinating</text>
<text font-family="'DejaVu Sans','Liberation Sans',sans-serif" font-size="23.3" text-anchor="start" fill="#000" transform="translate(1502.3 486.1) rotate(90)" xml:space="preserve">Seedling</text>
<rect x="1655" y="114.1" width="280" height="364.6" fill="#fff"/>
<line x1="1657.4" y1="156.6" x2="1932.6" y2="156.6" stroke="#ebebeb" stroke-width="2.4"/>
<line x1="1657.4" y1="258.9" x2="1932.6" y2="258.9" stroke="#ebebeb" stroke-width="2.4"/>
<line x1="1657.4" y1="359.9" x2="1932.6" y2="359.9" stroke="#ebebeb" stroke-width="2.4"/>
<line x1="1657.4" y1="461.2" x2="1932.6" y2="461.2" stroke="#ebebeb" stroke-width="2.4"/>
<line x1="1657.4" y1="208" x2="1932.6" y2="208" stroke="#ebebeb" stroke-width="4.5"/>
<line x1="1657.4" y1="309.3" x2="1932.6" y2="309.3" stroke="#ebebeb" stroke-width="4.5"/>
<line x1="1657.4" y1="410.4" x2="1932.6" y2="410.4" stroke="#ebebeb" stroke-width="4.5"/>
<line x1="1707.2" y1="116.5" x2="1707.2" y2="476.3" stroke="#ebebeb" stroke-width="4.5"/>
<line x1="1794.7" y1="116.5" x2="1794.7" y2="476.3" stroke="#ebebeb" stroke-width="4.5"/>
<line x1="1882.3" y1="116.5" x2="1882.3" y2="476.3" stroke="#ebebeb" stroke-width="4.5"/>
<circle cx="1794.7" cy="128.6" r="5.9" fill="#00BA38"/>
<circle cx="1794.7" cy="305" r="5.9" fill="#00BA38"/>
<circle cx="1707.2" cy="314.9" r="5.9" fill="#F8766D"/>
<circle cx="1707.2" cy="358.8" r="5.9" fill="#F8766D"/>
<circle cx="1707.2" cy="457.6" r="5.9" fill="#F8766D"/>
<circle cx="1882.3" cy="392.7" r="5.9" fill="#619CFF"/>
<circle cx="1882.3" cy="453.3" r="5.9" fill="#619CFF"/>
<circle cx="1882.3" cy="462.4" r="5.9" fill="#619CFF"/>
<text x="1706.5" y="302.5" font-family="'DejaVu Sans','Liberation Sans',sans-serif" font-size="23.5" text-anchor="middle" fill="#000" xml:space="preserve">ab</text>
<text x="1795.6" y="335.7" font-family="'DejaVu Sans','Liberation Sans',sans-serif" font-size="23.5" text-anchor="middle" fill="#000" xml:space="preserve">b</text>
<text x="1881.1" y="374.2" font-family="'DejaVu Sans','Liberation Sans',sans-serif" font-size="23.5" text-anchor="middle" fill="#000" xml:space="preserve">a</text>
<rect x="1655" y="114.1" width="280" height="364.6" fill="none" stroke="#333333" stroke-width="2.2"/>
<rect x="1655.2" y="84.3" width="279.1" height="28" fill="#d9d9d9" stroke="#333333" stroke-width="3.6"/>
<text x="1794" y="105.3" font-family="'DejaVu Sans','Liberation Sans',sans-serif" font-size="21.6" text-anchor="middle" fill="#000" textLength="252" lengthAdjust="spacingAndGlyphs" xml:space="preserve">Diversity (Inv Simpson)</text>
<rect x="1650.4" y="205.6" width="4.6" height="4.8" fill="#333333"/>
<rect x="1650.4" y="306.9" width="4.6" height="4.8" fill="#333333"/>
<rect x="1650.4" y="408" width="4.6" height="4.8" fill="#333333"/>
<rect x="1705" y="478.7" width="4.4" height="5.5" fill="#333333"/>
<rect x="1792.5" y="478.7" width="4.4" height="5.5" fill="#333333"/>
<rect x="1880.1" y="478.7" width="4.4" height="5.5" fill="#333333"/>
<text x="1650.5" y="217" font-family="'DejaVu Sans','Liberation Sans',sans-serif" font-size="23.3" text-anchor="end" fill="#000" xml:space="preserve">4</text>
<text x="1650.5" y="317.9" font-family="'DejaVu Sans','Liberation Sans',sans-serif" font-size="23.3" text-anchor="end" fill="#000" xml:space="preserve">3</text>
<text x="1650.5" y="418.2" font-family="'DejaVu Sans','Liberation Sans',sans-serif" font-size="23.3" text-anchor="end" fill="#000" xml:space="preserve">2</text>
<text font-family="'DejaVu Sans','Liberation Sans',sans-serif" font-size="23.3" text-anchor="middle" fill="#000" transform="translate(1624.4 289.4) rotate(-90)" xml:space="preserve">invsimpson</text>
<text font-family="'DejaVu Sans','Liberation Sans',sans-serif" font-size="23.3" text-anchor="start" fill="#000" transform="translate(1701.9 484.1) rotate(90)" xml:space="preserve">Seed</text>
<text font-family="'DejaVu Sans','Liberation Sans',sans-serif" font-size="23.3" text-anchor="start" fill="#000" transform="translate(1784.4 484.1) rotate(90)" xml:space="preserve">Germinating</text>
<text font-family="'DejaVu Sans','Liberation Sans',sans-serif" font-size="23.3" text-anchor="start" fill="#000" transform="translate(1875.4 484.1) rotate(90)" xml:space="preserve">Seedling</text>
<rect x="1282.9" y="746" width="276.6" height="363.9" fill="#fff"/>
<line x1="1285.3" y1="844.6" x2="1557.1" y2="844.6" stroke="#ebebeb" stroke-width="2.4"/>
<line x1="1285.3" y1="963.9" x2="1557.1" y2="963.9" stroke="#ebebeb" stroke-width="2.4"/>
<line x1="1285.3" y1="1082.8" x2="1557.1" y2="1082.8" stroke="#ebebeb" stroke-width="2.4"/>
<line x1="1285.3" y1="784.9" x2="1557.1" y2="784.9" stroke="#ebebeb" stroke-width="4.5"/>
<line x1="1285.3" y1="904.4" x2="1557.1" y2="904.4" stroke="#ebebeb" stroke-width="4.5"/>
<line x1="1285.3" y1="1023.3" x2="1557.1" y2="1023.3" stroke="#ebebeb" stroke-width="4.5"/>
<line x1="1333.2" y1="748.4" x2="1333.2" y2="1107.5" stroke="#ebebeb" stroke-width="4.5"/>
<line x1="1420.7" y1="748.4" x2="1420.7" y2="1107.5" stroke="#ebebeb" stroke-width="4.5"/>
<line x1="1507.5" y1="748.4" x2="1507.5" y2="1107.5" stroke="#ebebeb" stroke-width="4.5"/>
<circle cx="1333.2" cy="761" r="5.9" fill="#F8766D"/>
<circle cx="1420.7" cy="761" r="5.9" fill="#00BA38"/>
<circle cx="1507.8" cy="999.5" r="5.9" fill="#619CFF"/>
<circle cx="1507.8" cy="1082.8" r="5.9" fill="#619CFF"/>
<circle cx="1507.8" cy="1094.6" r="5.9" fill="#619CFF"/>
<text x="1330.9" y="802.8" font-family="'DejaVu Sans','Liberation Sans',sans-serif" font-size="23.5" text-anchor="middle" fill="#000" xml:space="preserve">a</text>
<text x="1422.7" y="802.8" font-family="'DejaVu Sans','Liberation Sans',sans-serif" font-size="23.5" text-anchor="middle" fill="#000" xml:space="preserve">a</text>
<text x="1510.5" y="969.6" font-family="'DejaVu Sans','Liberation Sans',sans-serif" font-size="23.5" text-anchor="middle" fill="#000" xml:space="preserve">b</text>
<rect x="1282.9" y="746" width="276.6" height="363.9" fill="none" stroke="#333333" stroke-width="2.2"/>
<rect x="1283.8" y="716.3" width="276.4" height="27.9" fill="#d9d9d9" stroke="#333333" stroke-width="3.6"/>
<text x="1414.6" y="737.2" font-family="'DejaVu Sans','Liberation Sans',sans-serif" font-size="23.3" text-anchor="middle" fill="#000" textLength="221" lengthAdjust="spacingAndGlyphs" xml:space="preserve">Observed  richness</text>
<rect x="1277" y="782.5" width="5.9" height="4.8" fill="#333333"/>
<rect x="1277" y="902" width="5.9" height="4.8" fill="#333333"/>
<rect x="1277" y="1020.9" width="5.9" height="4.8" fill="#333333"/>
<rect x="1331" y="1109.9" width="4.4" height="5.5" fill="#333333"/>
<rect x="1418.5" y="1109.9" width="4.4" height="5.5" fill="#333333"/>
<rect x="1505.3" y="1109.9" width="4.4" height="5.5" fill="#333333"/>
<text x="1274" y="793.1" font-family="'DejaVu Sans','Liberation Sans',sans-serif" font-size="23.3" text-anchor="end" fill="#000" xml:space="preserve">210</text>
<text x="1274" y="914.4" font-family="'DejaVu Sans','Liberation Sans',sans-serif" font-size="23.3" text-anchor="end" fill="#000" xml:space="preserve">200</text>
<text x="1274" y="1031.9" font-family="'DejaVu Sans','Liberation Sans',sans-serif" font-size="23.3" text-anchor="end" fill="#000" xml:space="preserve">190</text>
<text font-family="'DejaVu Sans','Liberation Sans',sans-serif" font-size="23.3" text-anchor="middle" fill="#000" transform="translate(1216 922) rotate(-90)" xml:space="preserve">#Genus</text>
<text font-family="'DejaVu Sans','Liberation Sans',sans-serif" font-size="23.3" text-anchor="start" fill="#000" transform="translate(1327.1 1118.9) rotate(90)" xml:space="preserve">Seed</text>
<text font-family="'DejaVu Sans','Liberation Sans',sans-serif" font-size="23.3" text-anchor="start" fill="#000" transform="translate(1413.6 1118.9) rotate(90)" xml:space="preserve">Germinating</text>
<text font-family="'DejaVu Sans','Liberation Sans',sans-serif" font-size="23.3" text-anchor="start" fill="#000" transform="translate(1501.4 1118.9) rotate(90)" xml:space="preserve">Seedling</text>
<rect x="1657.2" y="746.3" width="274.8" height="360.6" fill="#fff"/>
<line x1="1659.6" y1="850.8" x2="1929.6" y2="850.8" stroke="#ebebeb" stroke-width="2.4"/>
<line x1="1659.6" y1="959" x2="1929.6" y2="959" stroke="#ebebeb" stroke-width="2.4"/>
<line x1="1659.6" y1="1067.8" x2="1929.6" y2="1067.8" stroke="#ebebeb" stroke-width="2.4"/>
<line x1="1659.6" y1="796.5" x2="1929.6" y2="796.5" stroke="#ebebeb" stroke-width="4.5"/>
<line x1="1659.6" y1="904.6" x2="1929.6" y2="904.6" stroke="#ebebeb" stroke-width="4.5"/>
<line x1="1659.6" y1="1013.5" x2="1929.6" y2="1013.5" stroke="#ebebeb" stroke-width="4.5"/>
<line x1="1707.9" y1="748.7" x2="1707.9" y2="1104.5" stroke="#ebebeb" stroke-width="4.5"/>
<line x1="1794.3" y1="748.7" x2="1794.3" y2="1104.5" stroke="#ebebeb" stroke-width="4.5"/>
<line x1="1880.7" y1="748.7" x2="1880.7" y2="1104.5" stroke="#ebebeb" stroke-width="4.5"/>
<circle cx="1707.9" cy="761.4" r="5.9" fill="#F8766D"/>
<circle cx="1707.9" cy="773.9" r="5.9" fill="#F8766D"/>
<circle cx="1707.9" cy="821.1" r="5.9" fill="#F8766D"/>
<circle cx="1794.3" cy="884.9" r="5.9" fill="#00BA38"/>
<circle cx="1794.3" cy="911.8" r="5.9" fill="#00BA38"/>
<circle cx="1794.3" cy="949.4" r="5.9" fill="#00BA38"/>
<circle cx="1880.7" cy="1087.5" r="5.9" fill="#619CFF"/>
<circle cx="1880.7" cy="1089.5" r="5.9" fill="#619CFF"/>
<circle cx="1880.7" cy="1091.5" r="5.9" fill="#619CFF"/>
<text x="1707.7" y="845.8" font-family="'DejaVu Sans','Liberation Sans',sans-serif" font-size="23.5" text-anchor="middle" fill="#000" xml:space="preserve">a</text>
<text x="1794.5" y="872.9" font-family="'DejaVu Sans','Liberation Sans',sans-serif" font-size="23.5" text-anchor="middle" fill="#000" xml:space="preserve">b</text>
<text x="1878.9" y="1075.2" font-family="'DejaVu Sans','Liberation Sans',sans-serif" font-size="23.5" text-anchor="middle" fill="#000" xml:space="preserve">c</text>
<rect x="1657.2" y="746.3" width="274.8" height="360.6" fill="none" stroke="#333333" stroke-width="2.2"/>
<rect x="1656.1" y="715.8" width="276.4" height="28.7" fill="#d9d9d9" stroke="#333333" stroke-width="3.6"/>
<text x="1794" y="737.2" font-family="'DejaVu Sans','Liberation Sans',sans-serif" font-size="21.6" text-anchor="middle" fill="#000" textLength="252" lengthAdjust="spacingAndGlyphs" xml:space="preserve">Diversity (Inv Simpson)</text>
<rect x="1652.6" y="794.1" width="4.6" height="4.8" fill="#333333"/>
<rect x="1652.6" y="902.2" width="4.6" height="4.8" fill="#333333"/>
<rect x="1652.6" y="1011.1" width="4.6" height="4.8" fill="#333333"/>
<rect x="1705.7" y="1106.9" width="4.4" height="5.5" fill="#333333"/>
<rect x="1792.1" y="1106.9" width="4.4" height="5.5" fill="#333333"/>
<rect x="1878.5" y="1106.9" width="4.4" height="5.5" fill="#333333"/>
<text x="1649" y="804.4" font-family="'DejaVu Sans','Liberation Sans',sans-serif" font-size="23.3" text-anchor="end" fill="#000" xml:space="preserve">30</text>
<text x="1649" y="912.5" font-family="'DejaVu Sans','Liberation Sans',sans-serif" font-size="23.3" text-anchor="end" fill="#000" xml:space="preserve">20</text>
<text x="1649" y="1021" font-family="'DejaVu Sans','Liberation Sans',sans-serif" font-size="23.3" text-anchor="end" fill="#000" xml:space="preserve">10</text>
<text font-family="'DejaVu Sans','Liberation Sans',sans-serif" font-size="23.3" text-anchor="middle" fill="#000" transform="translate(1611.5 923.7) rotate(-90)" xml:space="preserve">invsimpson</text>
<text font-family="'DejaVu Sans','Liberation Sans',sans-serif" font-size="23.3" text-anchor="start" fill="#000" transform="translate(1700.4 1111.7) rotate(90)" xml:space="preserve">Seed</text>
<text font-family="'DejaVu Sans','Liberation Sans',sans-serif" font-size="23.3" text-anchor="start" fill="#000" transform="translate(1786.3 1111.7) rotate(90)" xml:space="preserve">Germinating</text>
<text font-family="'DejaVu Sans','Liberation Sans',sans-serif" font-size="23.3" text-anchor="start" fill="#000" transform="translate(1874.9 1111.7) rotate(90)" xml:space="preserve">Seedling</text>
<text x="216.8" y="1380.4" font-family="'DejaVu Sans','Liberation Sans',sans-serif" font-size="23.6" text-anchor="start" fill="#000" font-weight="bold" xml:space="preserve">Bray Curtis Bean</text>
<rect x="214.5" y="1394.5" width="626.5" height="437.5" fill="#fff"/>
<line x1="216.9" y1="1403.7" x2="838.6" y2="1403.7" stroke="#ebebeb" stroke-width="2.3"/>
<line x1="216.9" y1="1508.6" x2="838.6" y2="1508.6" stroke="#ebebeb" stroke-width="2.3"/>
<line x1="216.9" y1="1613.4" x2="838.6" y2="1613.4" stroke="#ebebeb" stroke-width="2.3"/>
<line x1="216.9" y1="1718" x2="838.6" y2="1718" stroke="#ebebeb" stroke-width="2.3"/>
<line x1="216.9" y1="1823.5" x2="838.6" y2="1823.5" stroke="#ebebeb" stroke-width="2.3"/>
<line x1="305" y1="1396.9" x2="305" y2="1829.6" stroke="#ebebeb" stroke-width="2.3"/>
<line x1="432" y1="1396.9" x2="432" y2="1829.6" stroke="#ebebeb" stroke-width="2.3"/>
<line x1="558.5" y1="1396.9" x2="558.5" y2="1829.6" stroke="#ebebeb" stroke-width="2.3"/>
<line x1="686" y1="1396.9" x2="686" y2="1829.6" stroke="#ebebeb" stroke-width="2.3"/>
<line x1="812.9" y1="1396.9" x2="812.9" y2="1829.6" stroke="#ebebeb" stroke-width="2.3"/>
<line x1="216.9" y1="1456.2" x2="838.6" y2="1456.2" stroke="#ebebeb" stroke-width="4.4"/>
<line x1="216.9" y1="1561" x2="838.6" y2="1561" stroke="#ebebeb" stroke-width="4.4"/>
<line x1="216.9" y1="1665.7" x2="838.6" y2="1665.7" stroke="#ebebeb" stroke-width="4.4"/>
<line x1="216.9" y1="1770.8" x2="838.6" y2="1770.8" stroke="#ebebeb" stroke-width="4.4"/>
<line x1="241.5" y1="1396.9" x2="241.5" y2="1829.6" stroke="#ebebeb" stroke-width="4.8"/>
<line x1="368.5" y1="1396.9" x2="368.5" y2="1829.6" stroke="#ebebeb" stroke-width="4.8"/>
<line x1="495.5" y1="1396.9" x2="495.5" y2="1829.6" stroke="#ebebeb" stroke-width="4.8"/>
<line x1="622.5" y1="1396.9" x2="622.5" y2="1829.6" stroke="#ebebeb" stroke-width="4.8"/>
<line x1="749.5" y1="1396.9" x2="749.5" y2="1829.6" stroke="#ebebeb" stroke-width="4.8"/>
<circle cx="241.5" cy="1413.6" r="6.3" fill="#F8766D"/>
<circle cx="433.5" cy="1499.3" r="6.3" fill="#F8766D"/>
<circle cx="760.1" cy="1447.8" r="6.3" fill="#F8766D"/>
<circle cx="813.2" cy="1458.9" r="6.3" fill="#619CFF"/>
<circle cx="812.2" cy="1467.8" r="6.3" fill="#619CFF"/>
<circle cx="723.8" cy="1508.7" r="6.3" fill="#619CFF"/>
<circle cx="577.6" cy="1656.7" r="6.3" fill="#00BA38"/>
<circle cx="487.3" cy="1813.2" r="6.3" fill="#00BA38"/>
<circle cx="750.2" cy="1783.5" r="6.3" fill="#00BA38"/>
<rect x="214.5" y="1394.5" width="626.5" height="437.5" fill="none" stroke="#222" stroke-width="2.5"/>
<rect x="209.2" y="1453.9" width="4.3" height="4.6" fill="#333333"/>
<rect x="209.2" y="1558.7" width="4.3" height="4.6" fill="#333333"/>
<rect x="209.2" y="1663.4" width="4.3" height="4.6" fill="#333333"/>
<rect x="209.2" y="1768.5" width="4.3" height="4.6" fill="#333333"/>
<rect x="239.2" y="1833" width="4.6" height="4.5" fill="#333333"/>
<rect x="366.2" y="1833" width="4.6" height="4.5" fill="#333333"/>
<rect x="493.2" y="1833" width="4.6" height="4.5" fill="#333333"/>
<rect x="620.2" y="1833" width="4.6" height="4.5" fill="#333333"/>
<rect x="747.2" y="1833" width="4.6" height="4.5" fill="#333333"/>
<text x="205.8" y="1460.8" font-family="'DejaVu Sans','Liberation Sans',sans-serif" font-size="23.3" text-anchor="end" fill="#000" xml:space="preserve">0.1</text>
<text x="180" y="1563.8" font-family="'DejaVu Sans','Liberation Sans',sans-serif" font-size="23.3" text-anchor="start" fill="#000" xml:space="preserve">0</text>
<text x="210.6" y="1669.5" font-family="'DejaVu Sans','Liberation Sans',sans-serif" font-size="23.3" text-anchor="end" fill="#000" xml:space="preserve">-0.1</text>
<text x="210.6" y="1774" font-family="'DejaVu Sans','Liberation Sans',sans-serif" font-size="23.3" text-anchor="end" fill="#000" xml:space="preserve">-0.2</text>
<text x="235.7" y="1855.6" font-family="'DejaVu Sans','Liberation Sans',sans-serif" font-size="23.3" text-anchor="middle" fill="#000" xml:space="preserve">-0.6</text>
<text x="364.5" y="1855.6" font-family="'DejaVu Sans','Liberation Sans',sans-serif" font-size="23.3" text-anchor="middle" fill="#000" xml:space="preserve">-0.4</text>
<text x="490.8" y="1855.6" font-family="'DejaVu Sans','Liberation Sans',sans-serif" font-size="23.3" text-anchor="middle" fill="#000" xml:space="preserve">-0.2</text>
<text x="622.3" y="1855.6" font-family="'DejaVu Sans','Liberation Sans',sans-serif" font-size="23.3" text-anchor="middle" fill="#000" xml:space="preserve">0</text>
<text x="748" y="1855.6" font-family="'DejaVu Sans','Liberation Sans',sans-serif" font-size="23.3" text-anchor="middle" fill="#000" xml:space="preserve">0.2</text>
<text x="526.4" y="1890.9" font-family="'DejaVu Sans','Liberation Sans',sans-serif" font-size="23.2" text-anchor="middle" fill="#000" xml:space="preserve">Axis 1 (78.6%)</text>
<text font-family="'DejaVu Sans','Liberation Sans',sans-serif" font-size="23.3" text-anchor="middle" fill="#000" transform="translate(150.2 1580.7) rotate(-90)" xml:space="preserve">Axis 2 (16.4%)</text>
<text x="216.8" y="1980" font-family="'DejaVu Sans','Liberation Sans',sans-serif" font-size="23.6" text-anchor="start" fill="#000" font-weight="bold" xml:space="preserve">Bray Curtis Radish</text>
<rect x="214.5" y="1993.2" width="626.6" height="437.4" fill="#fff"/>
<line x1="216.9" y1="2035.5" x2="838.7" y2="2035.5" stroke="#ebebeb" stroke-width="2.3"/>
<line x1="216.9" y1="2104.1" x2="838.7" y2="2104.1" stroke="#ebebeb" stroke-width="2.3"/>
<line x1="216.9" y1="2172.8" x2="838.7" y2="2172.8" stroke="#ebebeb" stroke-width="2.3"/>
<line x1="216.9" y1="2241.6" x2="838.7" y2="2241.6" stroke="#ebebeb" stroke-width="2.3"/>
<line x1="216.9" y1="2310.4" x2="838.7" y2="2310.4" stroke="#ebebeb" stroke-width="2.3"/>
<line x1="216.9" y1="2379.3" x2="838.7" y2="2379.3" stroke="#ebebeb" stroke-width="2.3"/>
<line x1="254.1" y1="1995.6" x2="254.1" y2="2428.2" stroke="#ebebeb" stroke-width="2.3"/>
<line x1="398.2" y1="1995.6" x2="398.2" y2="2428.2" stroke="#ebebeb" stroke-width="2.3"/>
<line x1="542.4" y1="1995.6" x2="542.4" y2="2428.2" stroke="#ebebeb" stroke-width="2.3"/>
<line x1="686.6" y1="1995.6" x2="686.6" y2="2428.2" stroke="#ebebeb" stroke-width="2.3"/>
<line x1="830.7" y1="1995.6" x2="830.7" y2="2428.2" stroke="#ebebeb" stroke-width="2.3"/>
<line x1="216.9" y1="2001.2" x2="838.7" y2="2001.2" stroke="#ebebeb" stroke-width="4.4"/>
<line x1="216.9" y1="2069.8" x2="838.7" y2="2069.8" stroke="#ebebeb" stroke-width="4.4"/>
<line x1="216.9" y1="2138.5" x2="838.7" y2="2138.5" stroke="#ebebeb" stroke-width="4.4"/>
<line x1="216.9" y1="2207.2" x2="838.7" y2="2207.2" stroke="#ebebeb" stroke-width="4.4"/>
<line x1="216.9" y1="2276" x2="838.7" y2="2276" stroke="#ebebeb" stroke-width="4.4"/>
<line x1="216.9" y1="2344.9" x2="838.7" y2="2344.9" stroke="#ebebeb" stroke-width="4.4"/>
<line x1="216.9" y1="2413.7" x2="838.7" y2="2413.7" stroke="#ebebeb" stroke-width="4.4"/>
<line x1="326.1" y1="1995.6" x2="326.1" y2="2428.2" stroke="#ebebeb" stroke-width="4.8"/>
<line x1="470.3" y1="1995.6" x2="470.3" y2="2428.2" stroke="#ebebeb" stroke-width="4.8"/>
<line x1="614.5" y1="1995.6" x2="614.5" y2="2428.2" stroke="#ebebeb" stroke-width="4.8"/>
<line x1="758.7" y1="1995.6" x2="758.7" y2="2428.2" stroke="#ebebeb" stroke-width="4.8"/>
<circle cx="300.7" cy="2014" r="6.3" fill="#F8766D"/>
<circle cx="324.7" cy="2012.1" r="6.3" fill="#F8766D"/>
<circle cx="343.1" cy="2040.4" r="6.3" fill="#F8766D"/>
<circle cx="795.9" cy="2210.9" r="6.3" fill="#619CFF"/>
<circle cx="812.8" cy="2224.1" r="6.3" fill="#619CFF"/>
<circle cx="241.3" cy="2349.6" r="6.3" fill="#00BA38"/>
<circle cx="273.4" cy="2377.9" r="6.3" fill="#00BA38"/>
<circle cx="329" cy="2412.3" r="6.3" fill="#00BA38"/>
<rect x="214.5" y="1993.2" width="626.6" height="437.4" fill="none" stroke="#222" stroke-width="2.5"/>
<rect x="209.2" y="1998.9" width="4.3" height="4.6" fill="#333333"/>
<rect x="209.2" y="2067.5" width="4.3" height="4.6" fill="#333333"/>
<rect x="209.2" y="2136.2" width="4.3" height="4.6" fill="#333333"/>
<rect x="209.2" y="2204.9" width="4.3" height="4.6" fill="#333333"/>
<rect x="209.2" y="2273.7" width="4.3" height="4.6" fill="#333333"/>
<rect x="209.2" y="2342.6" width="4.3" height="4.6" fill="#333333"/>
<rect x="209.2" y="2411.4" width="4.3" height="4.6" fill="#333333"/>
<rect x="323.8" y="2431.6" width="4.6" height="4.5" fill="#333333"/>
<rect x="468" y="2431.6" width="4.6" height="4.5" fill="#333333"/>
<rect x="612.2" y="2431.6" width="4.6" height="4.5" fill="#333333"/>
<rect x="756.4" y="2431.6" width="4.6" height="4.5" fill="#333333"/>
<text x="205.8" y="2009.5" font-family="'DejaVu Sans','Liberation Sans',sans-serif" font-size="23.3" text-anchor="end" fill="#000" xml:space="preserve">0.3</text>
<text x="205.8" y="2075.2" font-family="'DejaVu Sans','Liberation Sans',sans-serif" font-size="23.3" text-anchor="end" fill="#000" xml:space="preserve">0.2</text>
<text x="205.8" y="2147" font-family="'DejaVu Sans','Liberation Sans',sans-serif" font-size="23.3" text-anchor="end" fill="#000" xml:space="preserve">0.1</text>
<text x="180" y="2215.6" font-family="'DejaVu Sans','Liberation Sans',sans-serif" font-size="23.3" text-anchor="start" fill="#000" xml:space="preserve">0</text>
<text x="210.6" y="2283.6" font-family="'DejaVu Sans','Liberation Sans',sans-serif" font-size="23.3" text-anchor="end" fill="#000" xml:space="preserve">-0.1</text>
<text x="210.6" y="2352" font-family="'DejaVu Sans','Liberation Sans',sans-serif" font-size="23.3" text-anchor="end" fill="#000" xml:space="preserve">-0.2</text>
<text x="210.6" y="2421.7" font-family="'DejaVu Sans','Liberation Sans',sans-serif" font-size="23.3" text-anchor="end" fill="#000" xml:space="preserve">-0.3</text>
<text x="323.3" y="2453.3" font-family="'DejaVu Sans','Liberation Sans',sans-serif" font-size="23.3" text-anchor="middle" fill="#000" xml:space="preserve">-0.2</text>
<text x="471" y="2453.3" font-family="'DejaVu Sans','Liberation Sans',sans-serif" font-size="23.3" text-anchor="middle" fill="#000" xml:space="preserve">0</text>
<text x="615.4" y="2453.3" font-family="'DejaVu Sans','Liberation Sans',sans-serif" font-size="23.3" text-anchor="middle" fill="#000" xml:space="preserve">0.2</text>
<text x="774" y="2456.6" font-family="'DejaVu Sans','Liberation Sans',sans-serif" font-size="23.3" text-anchor="middle" fill="#000" xml:space="preserve">0.4</text>
<text x="524" y="2488.6" font-family="'DejaVu Sans','Liberation Sans',sans-serif" font-size="23.2" text-anchor="middle" fill="#000" xml:space="preserve">Axis 1 (68.7%)</text>
<text font-family="'DejaVu Sans','Liberation Sans',sans-serif" font-size="23.3" text-anchor="middle" fill="#000" transform="translate(149.5 2195.5) rotate(-90)" xml:space="preserve">Axis 2 (27.4%)</text>
<text x="1351" y="1374.5" font-family="'DejaVu Sans','Liberation Sans',sans-serif" font-size="22.8" text-anchor="middle" fill="#000" font-weight="bold" xml:space="preserve">Bean</text>
<rect x="1273" y="1395" width="184" height="962.3" fill="#fff"/>
<line x1="1301.7" y1="1397" x2="1301.7" y2="2355.3" stroke="#ebebeb" stroke-width="2.2"/>
<line x1="1342.95" y1="1397" x2="1342.95" y2="2355.3" stroke="#ebebeb" stroke-width="2.2"/>
<line x1="1384.2" y1="1397" x2="1384.2" y2="2355.3" stroke="#ebebeb" stroke-width="2.2"/>
<line x1="1425.45" y1="1397" x2="1425.45" y2="2355.3" stroke="#ebebeb" stroke-width="2.2"/>
<line x1="1281.1" y1="1397" x2="1281.1" y2="2355.3" stroke="#ebebeb" stroke-width="4.1"/>
<line x1="1322.35" y1="1397" x2="1322.35" y2="2355.3" stroke="#ebebeb" stroke-width="4.1"/>
<line x1="1363.6" y1="1397" x2="1363.6" y2="2355.3" stroke="#ebebeb" stroke-width="4.1"/>
<line x1="1404.85" y1="1397" x2="1404.85" y2="2355.3" stroke="#ebebeb" stroke-width="4.1"/>
<line x1="1446.1" y1="1397" x2="1446.1" y2="2355.3" stroke="#ebebeb" stroke-width="4.1"/>
<line x1="1275" y1="1506.4" x2="1452.7" y2="1506.4" stroke="#ebebeb" stroke-width="4.4"/>
<line x1="1275" y1="1691.1" x2="1452.7" y2="1691.1" stroke="#ebebeb" stroke-width="4.4"/>
<line x1="1275" y1="1876.4" x2="1452.7" y2="1876.4" stroke="#ebebeb" stroke-width="4.4"/>
<line x1="1275" y1="2061.1" x2="1452.7" y2="2061.1" stroke="#ebebeb" stroke-width="4.4"/>
<line x1="1275" y1="2246.2" x2="1452.7" y2="2246.2" stroke="#ebebeb" stroke-width="4.4"/>
<rect x="1268.4" y="1504.3" width="4.6" height="4.2" fill="#333333"/>
<rect x="1268.4" y="1689" width="4.6" height="4.2" fill="#333333"/>
<rect x="1268.4" y="1874.3" width="4.6" height="4.2" fill="#333333"/>
<rect x="1268.4" y="2059" width="4.6" height="4.2" fill="#333333"/>
<rect x="1268.4" y="2244.1" width="4.6" height="4.2" fill="#333333"/>
<rect x="1279.2" y="2357.3" width="3.8" height="5" fill="#333333"/>
<rect x="1320.45" y="2357.3" width="3.8" height="5" fill="#333333"/>
<rect x="1361.7" y="2357.3" width="3.8" height="5" fill="#333333"/>
<rect x="1402.95" y="2357.3" width="3.8" height="5" fill="#333333"/>
<rect x="1444.2" y="2357.3" width="3.8" height="5" fill="#333333"/>
<text x="1266.5" y="1512.3" font-family="'DejaVu Sans','Liberation Sans',sans-serif" font-size="23.5" text-anchor="end" fill="#000" font-style="oblique" xml:space="preserve">Pantoea*</text>
<text x="1266.5" y="1696.6" font-family="'DejaVu Sans','Liberation Sans',sans-serif" font-size="23.5" text-anchor="end" fill="#000" font-style="oblique" xml:space="preserve">Pseudomonas</text>
<text x="1266.5" y="1877.6" font-family="'DejaVu Sans','Liberation Sans',sans-serif" font-size="23.5" text-anchor="end" fill="#000" font-style="oblique" xml:space="preserve">Enterobacter*</text>
<text x="1268.2" y="2066.6" font-family="'DejaVu Sans','Liberation Sans',sans-serif" font-size="23.5" text-anchor="end" fill="#000" font-style="oblique" xml:space="preserve">Erwinia*</text>
<text x="1272" y="2252.1" font-family="'DejaVu Sans','Liberation Sans',sans-serif" font-size="23.5" text-anchor="end" fill="#000" xml:space="preserve">Unknown*</text>
<text x="1278.6" y="2379.8" font-family="'DejaVu Sans','Liberation Sans',sans-serif" font-size="23.3" text-anchor="middle" fill="#000" xml:space="preserve">0</text>
<text x="1318.6" y="2379.8" font-family="'DejaVu Sans','Liberation Sans',sans-serif" font-size="23.3" text-anchor="middle" fill="#000" xml:space="preserve">20</text>
<text x="1359.4" y="2379.8" font-family="'DejaVu Sans','Liberation Sans',sans-serif" font-size="23.3" text-anchor="middle" fill="#000" xml:space="preserve">40</text>
<text x="1401.7" y="2379.8" font-family="'DejaVu Sans','Liberation Sans',sans-serif" font-size="23.3" text-anchor="middle" fill="#000" xml:space="preserve">60</text>
<text x="1442.5" y="2379.8" font-family="'DejaVu Sans','Liberation Sans',sans-serif" font-size="23.3" text-anchor="middle" fill="#000" xml:space="preserve">80</text>
<text x="1360.2" y="2404.5" font-family="'DejaVu Sans','Liberation Sans',sans-serif" font-size="23.55" text-anchor="middle" fill="#000" xml:space="preserve">Abundance %</text>
<line x1="1415.1" y1="1552.6" x2="1428" y2="1552.6" stroke="#619CFF" stroke-width="4.6"/>
<rect x="1429.3" y="1529.7" width="16.9" height="45.8" fill="#fff" stroke="#619CFF" stroke-width="4.6" stroke-linejoin="round"/>
<rect x="1439.1" y="1528.4" width="9.4" height="48.4" fill="#619CFF" rx="1"/>
<line x1="1326.6" y1="1506.65" x2="1348" y2="1506.65" stroke="#00BA38" stroke-width="4.6"/>
<line x1="1380.2" y1="1506.65" x2="1386" y2="1506.65" stroke="#00BA38" stroke-width="4.6"/>
<rect x="1349.3" y="1483.7" width="29.6" height="45.9" fill="#fff" stroke="#00BA38" stroke-width="4.6" stroke-linejoin="round"/>
<rect x="1367.9" y="1482.4" width="13.3" height="48.5" fill="#00BA38" rx="1"/>
<line x1="1284.1" y1="1460.35" x2="1304.8" y2="1460.35" stroke="#F8766D" stroke-width="4.6"/>
<line x1="1370.1" y1="1460.35" x2="1409.5" y2="1460.35" stroke="#F8766D" stroke-width="4.6"/>
<rect x="1306.1" y="1437.4" width="62.7" height="45.9" fill="#fff" stroke="#F8766D" stroke-width="4.6" stroke-linejoin="round"/>
<rect x="1323.6" y="1436.1" width="8.7" height="48.5" fill="#F8766D" rx="1"/>
<line x1="1305.8" y1="1737.25" x2="1316.7" y2="1737.25" stroke="#619CFF" stroke-width="4.6"/>
<rect x="1290.8" y="1714.2" width="13.7" height="46.1" fill="#fff" stroke="#619CFF" stroke-width="4.6" stroke-linejoin="round"/>
<rect x="1288.5" y="1712.9" width="9.7" height="48.7" fill="#619CFF" rx="1"/>
<line x1="1293.2" y1="1691.1" x2="1322.2" y2="1691.1" stroke="#00BA38" stroke-width="4.6"/>
<rect x="1323.5" y="1668.2" width="33.2" height="45.8" fill="#fff" stroke="#00BA38" stroke-width="4.6" stroke-linejoin="round"/>
<rect x="1350.1" y="1666.9" width="8.9" height="48.4" fill="#00BA38" rx="1"/>
<line x1="1292.7" y1="1645" x2="1340.7" y2="1645" stroke="#F8766D" stroke-width="4.6"/>
<line x1="1419.6" y1="1645" x2="1445.6" y2="1645" stroke="#F8766D" stroke-width="4.6"/>
<rect x="1342" y="1622.2" width="76.3" height="45.6" fill="#fff" stroke="#F8766D" stroke-width="4.6" stroke-linejoin="round"/>
<rect x="1386.2" y="1620.9" width="8.7" height="48.2" fill="#F8766D" rx="1"/>
<rect x="1283.3" y="1897.9" width="8.7" height="49.9" fill="#619CFF" rx="3.2"/>
<line x1="1291" y1="1876.5" x2="1295.2" y2="1876.5" stroke="#00BA38" stroke-width="4.6"/>
<rect x="1279.1" y="1851.4" width="12.9" height="50.2" fill="#00BA38" rx="3.2"/>
<rect x="1280.3" y="1805.1" width="9.2" height="50.2" fill="#F8766D" rx="3.2"/>
<rect x="1279.9" y="2084.6" width="9.6" height="46.1" fill="#619CFF" rx="3.2"/>
<rect x="1278.6" y="2037.6" width="9.2" height="48.7" fill="#00BA38" rx="3.2"/>
<rect x="1279.9" y="1989.9" width="9.6" height="50.2" fill="#F8766D" rx="3.2"/>
<rect x="1279.9" y="2269.2" width="9.1" height="47.8" fill="#F8766D" rx="3.2"/>
<rect x="1279.1" y="2175.2" width="10.4" height="50.2" fill="#619CFF" rx="3.2"/>
<rect x="1278.6" y="2224" width="9.2" height="47" fill="#00BA38" rx="3.2"/>
<rect x="1273.1" y="1395" width="183.9" height="962.3" fill="none" stroke="#333333" stroke-width="4.6"/>
<text x="1842.7" y="1378.7" font-family="'DejaVu Sans','Liberation Sans',sans-serif" font-size="22.8" text-anchor="middle" fill="#000" font-weight="bold" xml:space="preserve">Radish</text>
<rect x="1746.6" y="1399.3" width="183.5" height="961.2" fill="#fff"/>
<line x1="1771.3" y1="1401.3" x2="1771.3" y2="2358.5" stroke="#ebebeb" stroke-width="2.2"/>
<line x1="1804.85" y1="1401.3" x2="1804.85" y2="2358.5" stroke="#ebebeb" stroke-width="2.2"/>
<line x1="1838.4" y1="1401.3" x2="1838.4" y2="2358.5" stroke="#ebebeb" stroke-width="2.2"/>
<line x1="1871.95" y1="1401.3" x2="1871.95" y2="2358.5" stroke="#ebebeb" stroke-width="2.2"/>
<line x1="1905.5" y1="1401.3" x2="1905.5" y2="2358.5" stroke="#ebebeb" stroke-width="2.2"/>
<line x1="1754" y1="1401.3" x2="1754" y2="2358.5" stroke="#ebebeb" stroke-width="4.1"/>
<line x1="1787.55" y1="1401.3" x2="1787.55" y2="2358.5" stroke="#ebebeb" stroke-width="4.1"/>
<line x1="1821.1" y1="1401.3" x2="1821.1" y2="2358.5" stroke="#ebebeb" stroke-width="4.1"/>
<line x1="1854.65" y1="1401.3" x2="1854.65" y2="2358.5" stroke="#ebebeb" stroke-width="4.1"/>
<line x1="1888.2" y1="1401.3" x2="1888.2" y2="2358.5" stroke="#ebebeb" stroke-width="4.1"/>
<line x1="1921.75" y1="1401.3" x2="1921.75" y2="2358.5" stroke="#ebebeb" stroke-width="4.1"/>
<line x1="1748.6" y1="1510.6" x2="1925.8" y2="1510.6" stroke="#ebebeb" stroke-width="4.4"/>
<line x1="1748.6" y1="1695.3" x2="1925.8" y2="1695.3" stroke="#ebebeb" stroke-width="4.4"/>
<line x1="1748.6" y1="1880.6" x2="1925.8" y2="1880.6" stroke="#ebebeb" stroke-width="4.4"/>
<line x1="1748.6" y1="2065.3" x2="1925.8" y2="2065.3" stroke="#ebebeb" stroke-width="4.4"/>
<line x1="1748.6" y1="2250.7" x2="1925.8" y2="2250.7" stroke="#ebebeb" stroke-width="4.4"/>
<rect x="1742" y="1508.5" width="4.6" height="4.2" fill="#333333"/>
<rect x="1742" y="1693.2" width="4.6" height="4.2" fill="#333333"/>
<rect x="1742" y="1878.5" width="4.6" height="4.2" fill="#333333"/>
<rect x="1742" y="2063.2" width="4.6" height="4.2" fill="#333333"/>
<rect x="1742" y="2248.6" width="4.6" height="4.2" fill="#333333"/>
<rect x="1752.1" y="2360.5" width="3.8" height="5" fill="#333333"/>
<rect x="1785.65" y="2360.5" width="3.8" height="5" fill="#333333"/>
<rect x="1819.2" y="2360.5" width="3.8" height="5" fill="#333333"/>
<rect x="1852.75" y="2360.5" width="3.8" height="5" fill="#333333"/>
<rect x="1886.3" y="2360.5" width="3.8" height="5" fill="#333333"/>
<rect x="1919.85" y="2360.5" width="3.8" height="5" fill="#333333"/>
<text x="1743.7" y="1515" font-family="'DejaVu Sans','Liberation Sans',sans-serif" font-size="23.5" text-anchor="end" fill="#000" font-style="oblique" xml:space="preserve">Pseudomonas*</text>
<text x="1743.7" y="1700.3" font-family="'DejaVu Sans','Liberation Sans',sans-serif" font-size="23.5" text-anchor="end" fill="#000" font-style="oblique" xml:space="preserve">Pantoea*</text>
<text x="1738.5" y="1885.5" font-family="'DejaVu Sans','Liberation Sans',sans-serif" font-size="23.5" text-anchor="end" fill="#000" font-style="oblique" xml:space="preserve">Streptomyces</text>
<text x="1738.5" y="2074" font-family="'DejaVu Sans','Liberation Sans',sans-serif" font-size="23.5" text-anchor="end" fill="#000" font-style="oblique" xml:space="preserve">Arthrobacter</text>
<text x="1738.5" y="2255.6" font-family="'DejaVu Sans','Liberation Sans',sans-serif" font-size="23.5" text-anchor="end" fill="#000" font-style="oblique" xml:space="preserve">Bacillus</text>
<text x="1754" y="2383.7" font-family="'DejaVu Sans','Liberation Sans',sans-serif" font-size="23.3" text-anchor="middle" fill="#000" xml:space="preserve">0</text>
<text x="1788" y="2383.7" font-family="'DejaVu Sans','Liberation Sans',sans-serif" font-size="23.3" text-anchor="middle" fill="#000" xml:space="preserve">10</text>
<text x="1822.8" y="2383.7" font-family="'DejaVu Sans','Liberation Sans',sans-serif" font-size="23.3" text-anchor="middle" fill="#000" xml:space="preserve">20</text>
<text x="1857" y="2383.7" font-family="'DejaVu Sans','Liberation Sans',sans-serif" font-size="23.3" text-anchor="middle" fill="#000" xml:space="preserve">30</text>
<text x="1890.1" y="2383.7" font-family="'DejaVu Sans','Liberation Sans',sans-serif" font-size="23.3" text-anchor="middle" fill="#000" xml:space="preserve">40</text>
<text x="1923.7" y="2383.7" font-family="'DejaVu Sans','Liberation Sans',sans-serif" font-size="23.3" text-anchor="middle" fill="#000" xml:space="preserve">50</text>
<text x="1838.7" y="2409" font-family="'DejaVu Sans','Liberation Sans',sans-serif" font-size="23.55" text-anchor="middle" fill="#000" xml:space="preserve">Abundance %</text>
<line x1="1878.2" y1="1557.3" x2="1890.4" y2="1557.3" stroke="#619CFF" stroke-width="4.6"/>
<line x1="1914.8" y1="1557.3" x2="1921.9" y2="1557.3" stroke="#619CFF" stroke-width="4.6"/>
<rect x="1891.7" y="1534" width="21.8" height="46.6" fill="#fff" stroke="#619CFF" stroke-width="4.6" stroke-linejoin="round"/>
<rect x="1900.7" y="1532.7" width="9.1" height="49.2" fill="#619CFF" rx="1"/>
<line x1="1785.7" y1="1510.55" x2="1791.1" y2="1510.55" stroke="#00BA38" stroke-width="4.6"/>
<rect x="1772.6" y="1485.3" width="14.1" height="50.5" fill="#00BA38" rx="3.2"/>
<line x1="1798" y1="1464.4" x2="1800.8" y2="1464.4" stroke="#F8766D" stroke-width="4.6"/>
<rect x="1788.7" y="1439.3" width="10.3" height="50.2" fill="#F8766D" rx="3.2"/>
<line x1="1862.9" y1="1742.05" x2="1866.3" y2="1742.05" stroke="#619CFF" stroke-width="4.6"/>
<line x1="1887.3" y1="1742.05" x2="1900" y2="1742.05" stroke="#619CFF" stroke-width="4.6"/>
<rect x="1867.6" y="1719.1" width="18.4" height="45.9" fill="#fff" stroke="#619CFF" stroke-width="4.6" stroke-linejoin="round"/>
<rect x="1865.3" y="1717.8" width="11.9" height="48.5" fill="#619CFF" rx="1"/>
<line x1="1767.1" y1="1695.95" x2="1769.9" y2="1695.95" stroke="#00BA38" stroke-width="4.6"/>
<rect x="1768.9" y="1670.6" width="11.1" height="50.7" fill="#00BA38" rx="3.2"/>
<line x1="1772.1" y1="1649.4" x2="1776.3" y2="1649.4" stroke="#F8766D" stroke-width="4.6"/>
<rect x="1760.7" y="1624.3" width="12.4" height="50.2" fill="#F8766D" rx="3.2"/>
<rect x="1750.3" y="1902.1" width="9.2" height="50.2" fill="#619CFF" rx="3.2"/>
<rect x="1760.7" y="1855.3" width="9.4" height="50.5" fill="#00BA38" rx="3.2"/>
<rect x="1776.3" y="1809.3" width="9.4" height="50.2" fill="#F8766D" rx="3.2"/>
<rect x="1750.3" y="2087.1" width="9.2" height="49.8" fill="#619CFF" rx="3.2"/>
<rect x="1755.8" y="2040.8" width="9.1" height="50.5" fill="#00BA38" rx="3.2"/>
<rect x="1766.4" y="1994.3" width="9.4" height="50.2" fill="#F8766D" rx="3.2"/>
<rect x="1751.1" y="2272.4" width="9.1" height="50" fill="#619CFF" rx="3.2"/>
<line x1="1782.5" y1="2251" x2="1790.9" y2="2251" stroke="#00BA38" stroke-width="4.6"/>
<line x1="1808.7" y1="2251" x2="1812.2" y2="2251" stroke="#00BA38" stroke-width="4.6"/>
<rect x="1792.2" y="2228.2" width="15.2" height="45.6" fill="#fff" stroke="#00BA38" stroke-width="4.6" stroke-linejoin="round"/>
<rect x="1797.8" y="2226.9" width="11.9" height="48.2" fill="#00BA38" rx="1"/>
<rect x="1755.3" y="2179.7" width="9.1" height="49.9" fill="#F8766D" rx="3.2"/>
<rect x="1746.6" y="1399.3" width="183.5" height="961.2" fill="none" stroke="#333333" stroke-width="4.6"/>
</svg></body></html>
